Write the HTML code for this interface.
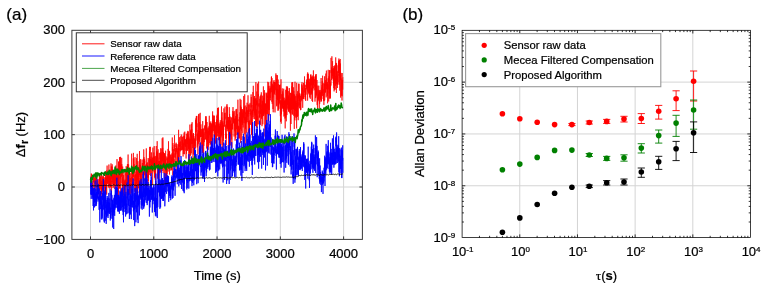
<!DOCTYPE html>
<html><head><meta charset="utf-8"><title>fig</title><style>html,body{margin:0;padding:0;background:#fff}text{stroke:#000;stroke-width:.22px}</style></head><body>
<svg width="763" height="288" viewBox="0 0 763 288" style="display:block;will-change:transform;font-family:'Liberation Sans',sans-serif">
<rect width="763" height="288" fill="#fff"/>
<line x1="90.50" x2="90.50" y1="30.3" y2="239.4" stroke="#d4d4d4" stroke-width="1"/>
<line x1="153.78" x2="153.78" y1="30.3" y2="239.4" stroke="#d4d4d4" stroke-width="1"/>
<line x1="217.05" x2="217.05" y1="30.3" y2="239.4" stroke="#d4d4d4" stroke-width="1"/>
<line x1="280.33" x2="280.33" y1="30.3" y2="239.4" stroke="#d4d4d4" stroke-width="1"/>
<line x1="343.60" x2="343.60" y1="30.3" y2="239.4" stroke="#d4d4d4" stroke-width="1"/>
<line x1="71.9" x2="362.4" y1="187.00" y2="187.00" stroke="#d4d4d4" stroke-width="1"/>
<line x1="71.9" x2="362.4" y1="134.65" y2="134.65" stroke="#d4d4d4" stroke-width="1"/>
<line x1="71.9" x2="362.4" y1="82.30" y2="82.30" stroke="#d4d4d4" stroke-width="1"/>
<path d="M90.5,182.9 L90.6,185.9 L90.7,181.6 L90.8,185.2 L90.8,187.9 L90.9,187.8 L91.0,179.7 L91.1,180.3 L91.2,175.9 L91.3,182.9 L91.3,173.5 L91.4,179.5 L91.5,181.0 L91.6,178.6 L91.7,182.7 L91.8,183.5 L91.8,174.2 L91.9,184.1 L92.0,181.0 L92.1,185.4 L92.2,185.2 L92.3,188.2 L92.4,185.3 L92.4,183.2 L92.5,188.7 L92.6,190.4 L92.7,186.0 L92.8,184.4 L92.9,185.7 L92.9,196.5 L93.0,196.8 L93.1,188.7 L93.2,190.6 L93.3,187.6 L93.4,184.0 L93.4,176.6 L93.5,182.4 L93.6,180.0 L93.7,178.0 L93.8,177.5 L93.9,182.1 L94.0,181.6 L94.0,181.5 L94.1,179.6 L94.2,185.3 L94.3,189.2 L94.4,184.2 L94.5,182.0 L94.5,182.0 L94.6,183.3 L94.7,177.4 L94.8,179.2 L94.9,184.0 L95.0,176.7 L95.0,180.9 L95.1,180.6 L95.2,186.0 L95.3,183.3 L95.4,180.8 L95.5,181.6 L95.6,177.7 L95.6,180.4 L95.7,177.8 L95.8,181.9 L95.9,181.4 L96.0,184.4 L96.1,178.4 L96.1,181.9 L96.2,190.9 L96.3,178.1 L96.4,184.0 L96.5,184.6 L96.6,184.2 L96.6,185.6 L96.7,183.1 L96.8,176.2 L96.9,177.6 L97.0,183.0 L97.1,184.1 L97.2,182.6 L97.2,183.4 L97.3,187.8 L97.4,184.5 L97.5,197.6 L97.6,190.9 L97.7,186.4 L97.7,184.9 L97.8,180.5 L97.9,191.7 L98.0,185.5 L98.1,181.8 L98.2,179.2 L98.2,185.2 L98.3,184.4 L98.4,185.5 L98.5,190.7 L98.6,185.7 L98.7,185.6 L98.8,186.3 L98.8,186.3 L98.9,184.6 L99.0,190.5 L99.1,187.1 L99.2,195.4 L99.3,187.5 L99.3,181.8 L99.4,175.3 L99.5,180.3 L99.6,189.5 L99.7,181.3 L99.8,177.6 L99.8,181.0 L99.9,178.6 L100.0,179.3 L100.1,173.8 L100.2,185.9 L100.3,184.3 L100.4,180.0 L100.4,186.0 L100.5,176.6 L100.6,184.7 L100.7,189.5 L100.8,189.4 L100.9,188.4 L100.9,183.5 L101.0,190.2 L101.1,198.5 L101.2,188.7 L101.3,177.0 L101.4,173.5 L101.4,174.3 L101.5,193.9 L101.6,186.1 L101.7,191.0 L101.8,181.0 L101.9,183.8 L102.0,187.7 L102.0,192.4 L102.1,184.6 L102.2,175.7 L102.3,190.7 L102.4,179.6 L102.5,183.3 L102.5,177.4 L102.6,183.3 L102.7,187.5 L102.8,185.8 L102.9,181.4 L103.0,188.7 L103.0,181.2 L103.1,183.0 L103.2,183.0 L103.3,190.0 L103.4,175.6 L103.5,189.7 L103.6,187.3 L103.6,192.2 L103.7,176.9 L103.8,178.1 L103.9,179.5 L104.0,192.0 L104.1,198.4 L104.1,189.5 L104.2,190.7 L104.3,191.8 L104.4,195.4 L104.5,197.4 L104.6,180.5 L104.6,182.5 L104.7,186.8 L104.8,188.6 L104.9,179.2 L105.0,177.2 L105.1,183.8 L105.1,186.5 L105.2,178.0 L105.3,186.0 L105.4,182.4 L105.5,180.8 L105.6,172.7 L105.7,190.4 L105.7,184.1 L105.8,180.0 L105.9,193.6 L106.0,186.2 L106.1,187.1 L106.2,171.6 L106.2,176.4 L106.3,188.5 L106.4,183.6 L106.5,186.7 L106.6,177.8 L106.7,194.6 L106.7,177.6 L106.8,183.9 L106.9,170.4 L107.0,176.6 L107.1,165.6 L107.2,184.2 L107.3,179.7 L107.3,172.6 L107.4,173.3 L107.5,183.3 L107.6,174.5 L107.7,179.2 L107.8,182.0 L107.8,180.3 L107.9,179.8 L108.0,181.3 L108.1,182.8 L108.2,183.2 L108.3,174.3 L108.3,178.9 L108.4,187.4 L108.5,176.2 L108.6,176.6 L108.7,175.9 L108.8,180.2 L108.9,164.5 L108.9,172.3 L109.0,184.8 L109.1,178.5 L109.2,185.7 L109.3,188.4 L109.4,185.3 L109.4,184.1 L109.5,178.5 L109.6,171.1 L109.7,181.9 L109.8,181.4 L109.9,184.9 L109.9,175.8 L110.0,180.8 L110.1,186.7 L110.2,176.6 L110.3,176.6 L110.4,187.2 L110.5,181.4 L110.5,178.0 L110.6,186.4 L110.7,187.6 L110.8,186.3 L110.9,169.7 L111.0,178.8 L111.0,163.4 L111.1,171.9 L111.2,177.8 L111.3,166.4 L111.4,179.1 L111.5,200.8 L111.5,196.4 L111.6,181.1 L111.7,182.3 L111.8,176.6 L111.9,175.1 L112.0,176.7 L112.1,166.6 L112.1,181.8 L112.2,164.3 L112.3,183.9 L112.4,177.8 L112.5,171.3 L112.6,175.5 L112.6,173.3 L112.7,179.6 L112.8,169.3 L112.9,178.3 L113.0,183.8 L113.1,188.1 L113.1,177.2 L113.2,176.2 L113.3,186.7 L113.4,179.5 L113.5,171.5 L113.6,183.9 L113.7,176.1 L113.7,179.8 L113.8,180.4 L113.9,179.3 L114.0,177.9 L114.1,173.9 L114.2,184.7 L114.2,179.0 L114.3,182.2 L114.4,184.3 L114.5,170.6 L114.6,189.0 L114.7,186.5 L114.7,177.8 L114.8,178.2 L114.9,171.4 L115.0,185.2 L115.1,176.4 L115.2,180.8 L115.3,174.5 L115.3,167.8 L115.4,176.6 L115.5,178.8 L115.6,181.5 L115.7,183.5 L115.8,194.6 L115.8,165.5 L115.9,177.4 L116.0,177.2 L116.1,182.8 L116.2,178.9 L116.3,179.1 L116.3,184.4 L116.4,174.8 L116.5,180.8 L116.6,186.0 L116.7,174.2 L116.8,178.0 L116.9,171.2 L116.9,173.8 L117.0,159.1 L117.1,169.8 L117.2,175.1 L117.3,175.9 L117.4,179.6 L117.4,182.4 L117.5,175.8 L117.6,186.9 L117.7,174.4 L117.8,178.7 L117.9,175.9 L117.9,180.2 L118.0,177.9 L118.1,192.0 L118.2,181.3 L118.3,173.7 L118.4,179.2 L118.5,201.0 L118.5,161.7 L118.6,171.5 L118.7,179.5 L118.8,161.6 L118.9,180.8 L119.0,181.5 L119.0,187.7 L119.1,182.4 L119.2,188.5 L119.3,168.5 L119.4,171.5 L119.5,157.3 L119.5,170.5 L119.6,164.3 L119.7,188.5 L119.8,183.2 L119.9,160.5 L120.0,157.0 L120.1,164.5 L120.1,169.2 L120.2,178.1 L120.3,177.2 L120.4,178.5 L120.5,176.5 L120.6,156.8 L120.6,172.1 L120.7,200.9 L120.8,178.1 L120.9,173.3 L121.0,164.7 L121.1,183.4 L121.1,173.2 L121.2,173.1 L121.3,168.0 L121.4,170.4 L121.5,173.0 L121.6,173.9 L121.7,157.9 L121.7,176.7 L121.8,164.2 L121.9,173.5 L122.0,176.2 L122.1,174.9 L122.2,171.0 L122.2,174.4 L122.3,183.5 L122.4,181.1 L122.5,177.3 L122.6,190.7 L122.7,166.5 L122.7,193.5 L122.8,179.4 L122.9,184.0 L123.0,199.7 L123.1,183.1 L123.2,183.7 L123.3,182.2 L123.3,195.6 L123.4,186.6 L123.5,183.8 L123.6,175.1 L123.7,181.9 L123.8,184.0 L123.8,179.7 L123.9,180.6 L124.0,172.3 L124.1,177.9 L124.2,179.7 L124.3,183.8 L124.3,185.9 L124.4,186.8 L124.5,180.7 L124.6,185.3 L124.7,190.1 L124.8,182.1 L124.9,186.2 L124.9,200.1 L125.0,197.0 L125.1,187.3 L125.2,179.6 L125.3,184.4 L125.4,183.6 L125.4,186.1 L125.5,180.4 L125.6,181.6 L125.7,170.1 L125.8,175.4 L125.9,173.5 L125.9,185.5 L126.0,199.9 L126.1,178.1 L126.2,166.1 L126.3,186.7 L126.4,179.4 L126.5,185.3 L126.5,168.7 L126.6,175.6 L126.7,180.3 L126.8,176.3 L126.9,178.0 L127.0,183.1 L127.0,169.6 L127.1,172.0 L127.2,168.0 L127.3,166.6 L127.4,164.3 L127.5,183.5 L127.5,171.8 L127.6,164.2 L127.7,174.8 L127.8,187.4 L127.9,183.8 L128.0,173.4 L128.1,154.5 L128.1,176.8 L128.2,180.5 L128.3,175.7 L128.4,172.1 L128.5,171.5 L128.6,174.6 L128.6,164.3 L128.7,184.2 L128.8,180.5 L128.9,170.5 L129.0,186.4 L129.1,181.8 L129.1,172.5 L129.2,182.6 L129.3,194.6 L129.4,180.1 L129.5,192.8 L129.6,188.6 L129.7,170.6 L129.7,177.2 L129.8,182.0 L129.9,181.9 L130.0,186.0 L130.1,183.6 L130.2,188.3 L130.2,184.7 L130.3,194.8 L130.4,188.8 L130.5,179.0 L130.6,179.3 L130.7,178.1 L130.7,181.9 L130.8,173.3 L130.9,184.6 L131.0,184.1 L131.1,184.4 L131.2,183.0 L131.3,193.3 L131.3,176.7 L131.4,175.7 L131.5,169.6 L131.6,153.7 L131.7,169.0 L131.8,180.1 L131.8,182.6 L131.9,178.8 L132.0,176.8 L132.1,186.2 L132.2,177.4 L132.3,179.7 L132.3,182.6 L132.4,168.7 L132.5,186.3 L132.6,168.4 L132.7,176.2 L132.8,184.1 L132.8,176.8 L132.9,171.5 L133.0,174.5 L133.1,183.9 L133.2,176.1 L133.3,158.4 L133.4,176.8 L133.4,152.9 L133.5,168.7 L133.6,176.6 L133.7,158.5 L133.8,163.6 L133.9,170.3 L133.9,167.2 L134.0,173.2 L134.1,164.2 L134.2,170.7 L134.3,168.1 L134.4,178.3 L134.4,185.4 L134.5,184.7 L134.6,190.7 L134.7,190.5 L134.8,191.9 L134.9,175.2 L135.0,180.9 L135.0,157.2 L135.1,180.3 L135.2,186.0 L135.3,180.4 L135.4,177.5 L135.5,174.2 L135.5,176.8 L135.6,189.2 L135.7,195.7 L135.8,181.9 L135.9,199.1 L136.0,179.7 L136.0,171.8 L136.1,173.0 L136.2,175.4 L136.3,176.1 L136.4,169.6 L136.5,164.2 L136.6,158.1 L136.6,186.1 L136.7,168.8 L136.8,190.5 L136.9,168.3 L137.0,195.7 L137.1,172.8 L137.1,180.0 L137.2,153.8 L137.3,179.8 L137.4,173.6 L137.5,177.1 L137.6,178.4 L137.6,172.1 L137.7,174.7 L137.8,192.7 L137.9,161.2 L138.0,170.2 L138.1,173.5 L138.2,172.5 L138.2,171.3 L138.3,183.3 L138.4,172.6 L138.5,185.4 L138.6,175.9 L138.7,171.0 L138.7,188.0 L138.8,169.1 L138.9,183.0 L139.0,177.8 L139.1,188.7 L139.2,185.0 L139.2,176.0 L139.3,165.4 L139.4,169.5 L139.5,151.0 L139.6,175.2 L139.7,160.3 L139.8,161.5 L139.8,167.2 L139.9,171.7 L140.0,177.3 L140.1,171.0 L140.2,174.4 L140.3,165.1 L140.3,173.1 L140.4,172.5 L140.5,184.2 L140.6,159.1 L140.7,184.5 L140.8,186.1 L140.8,181.5 L140.9,167.6 L141.0,177.4 L141.1,180.4 L141.2,180.2 L141.3,178.1 L141.4,197.9 L141.4,187.1 L141.5,185.2 L141.6,175.2 L141.7,169.2 L141.8,185.7 L141.9,174.6 L141.9,167.8 L142.0,172.6 L142.1,159.6 L142.2,170.4 L142.3,168.1 L142.4,163.0 L142.4,169.4 L142.5,171.0 L142.6,174.7 L142.7,171.3 L142.8,165.6 L142.9,168.7 L143.0,168.8 L143.0,173.0 L143.1,175.7 L143.2,178.1 L143.3,171.0 L143.4,158.8 L143.5,168.3 L143.5,161.3 L143.6,159.9 L143.7,149.4 L143.8,151.2 L143.9,157.3 L144.0,162.9 L144.0,157.2 L144.1,169.5 L144.2,172.8 L144.3,171.8 L144.4,174.7 L144.5,167.0 L144.6,159.1 L144.6,163.7 L144.7,160.8 L144.8,167.3 L144.9,175.4 L145.0,169.8 L145.1,181.0 L145.1,174.7 L145.2,168.7 L145.3,179.7 L145.4,170.0 L145.5,166.3 L145.6,170.1 L145.6,194.6 L145.7,173.3 L145.8,164.9 L145.9,180.6 L146.0,167.5 L146.1,170.4 L146.2,164.0 L146.2,187.5 L146.3,148.4 L146.4,173.2 L146.5,172.4 L146.6,167.0 L146.7,172.9 L146.7,177.9 L146.8,178.7 L146.9,163.2 L147.0,175.9 L147.1,166.9 L147.2,177.9 L147.2,169.8 L147.3,162.3 L147.4,176.5 L147.5,172.4 L147.6,173.0 L147.7,174.7 L147.8,177.6 L147.8,166.2 L147.9,186.9 L148.0,171.8 L148.1,165.4 L148.2,158.0 L148.3,175.0 L148.3,181.4 L148.4,167.1 L148.5,177.5 L148.6,172.5 L148.7,171.3 L148.8,167.4 L148.8,165.8 L148.9,171.6 L149.0,169.0 L149.1,159.4 L149.2,172.2 L149.3,163.0 L149.4,163.0 L149.4,154.7 L149.5,151.2 L149.6,166.4 L149.7,163.9 L149.8,175.0 L149.9,147.0 L149.9,162.8 L150.0,146.9 L150.1,150.5 L150.2,146.8 L150.3,160.6 L150.4,161.9 L150.4,159.0 L150.5,176.1 L150.6,164.3 L150.7,168.4 L150.8,166.6 L150.9,159.4 L151.0,164.6 L151.0,156.7 L151.1,162.6 L151.2,165.5 L151.3,162.0 L151.4,152.7 L151.5,152.4 L151.5,169.1 L151.6,171.0 L151.7,173.5 L151.8,159.6 L151.9,170.0 L152.0,167.9 L152.0,162.3 L152.1,161.6 L152.2,168.1 L152.3,185.0 L152.4,166.1 L152.5,157.7 L152.6,166.5 L152.6,160.5 L152.7,164.1 L152.8,164.7 L152.9,147.6 L153.0,164.8 L153.1,161.3 L153.1,171.5 L153.2,163.3 L153.3,156.7 L153.4,163.2 L153.5,159.6 L153.6,163.1 L153.6,167.0 L153.7,164.6 L153.8,152.5 L153.9,162.0 L154.0,165.4 L154.1,167.2 L154.2,146.1 L154.2,162.0 L154.3,173.3 L154.4,163.4 L154.5,156.6 L154.6,177.5 L154.7,172.7 L154.7,167.8 L154.8,172.9 L154.9,177.6 L155.0,161.8 L155.1,173.8 L155.2,174.5 L155.2,179.6 L155.3,155.9 L155.4,174.0 L155.5,176.7 L155.6,179.4 L155.7,185.5 L155.8,174.1 L155.8,171.2 L155.9,166.9 L156.0,157.4 L156.1,168.4 L156.2,162.4 L156.3,146.0 L156.3,164.3 L156.4,164.1 L156.5,163.5 L156.6,151.3 L156.7,166.4 L156.8,154.6 L156.8,163.2 L156.9,152.6 L157.0,158.7 L157.1,151.9 L157.2,141.2 L157.3,153.8 L157.4,157.8 L157.4,152.1 L157.5,151.6 L157.6,168.8 L157.7,163.5 L157.8,178.1 L157.9,158.3 L157.9,157.6 L158.0,179.0 L158.1,149.3 L158.2,167.9 L158.3,175.8 L158.4,165.8 L158.4,166.9 L158.5,165.1 L158.6,165.1 L158.7,161.2 L158.8,173.1 L158.9,175.4 L159.0,169.7 L159.0,182.6 L159.1,186.6 L159.2,153.1 L159.3,165.1 L159.4,171.5 L159.5,162.5 L159.5,161.0 L159.6,173.0 L159.7,166.9 L159.8,169.0 L159.9,171.8 L160.0,162.3 L160.0,166.0 L160.1,152.7 L160.2,159.0 L160.3,153.4 L160.4,163.9 L160.5,159.6 L160.6,172.5 L160.6,148.3 L160.7,160.6 L160.8,160.3 L160.9,162.5 L161.0,155.6 L161.1,158.0 L161.1,152.1 L161.2,164.8 L161.3,158.6 L161.4,157.3 L161.5,157.4 L161.6,167.0 L161.6,157.9 L161.7,151.2 L161.8,148.5 L161.9,161.5 L162.0,153.9 L162.1,157.7 L162.1,158.3 L162.2,138.3 L162.3,161.3 L162.4,151.3 L162.5,153.2 L162.6,156.4 L162.7,147.9 L162.7,171.0 L162.8,165.9 L162.9,137.4 L163.0,140.8 L163.1,153.0 L163.2,173.1 L163.2,157.2 L163.3,167.5 L163.4,153.3 L163.5,151.9 L163.6,162.3 L163.7,153.4 L163.7,153.7 L163.8,159.7 L163.9,166.6 L164.0,159.9 L164.1,153.2 L164.2,154.2 L164.3,165.6 L164.3,153.2 L164.4,155.8 L164.5,154.5 L164.6,181.7 L164.7,182.8 L164.8,159.6 L164.8,154.6 L164.9,160.4 L165.0,164.0 L165.1,159.8 L165.2,166.4 L165.3,164.8 L165.3,160.2 L165.4,165.2 L165.5,158.2 L165.6,150.7 L165.7,159.1 L165.8,182.1 L165.9,161.3 L165.9,156.3 L166.0,170.2 L166.1,172.6 L166.2,175.9 L166.3,169.2 L166.4,181.6 L166.4,168.8 L166.5,165.8 L166.6,181.5 L166.7,181.4 L166.8,165.2 L166.9,161.5 L166.9,158.4 L167.0,160.1 L167.1,156.8 L167.2,174.5 L167.3,163.7 L167.4,162.5 L167.5,164.6 L167.5,158.6 L167.6,159.0 L167.7,166.0 L167.8,158.6 L167.9,159.5 L168.0,162.8 L168.0,148.9 L168.1,171.6 L168.2,153.9 L168.3,163.4 L168.4,157.8 L168.5,152.1 L168.5,141.3 L168.6,158.1 L168.7,153.7 L168.8,156.1 L168.9,157.9 L169.0,159.3 L169.1,155.8 L169.1,157.9 L169.2,155.4 L169.3,150.8 L169.4,157.4 L169.5,174.5 L169.6,151.5 L169.6,162.9 L169.7,163.9 L169.8,168.0 L169.9,157.7 L170.0,155.5 L170.1,161.5 L170.1,169.0 L170.2,170.5 L170.3,164.6 L170.4,163.8 L170.5,161.8 L170.6,161.1 L170.7,166.9 L170.7,154.7 L170.8,161.6 L170.9,165.5 L171.0,158.6 L171.1,154.6 L171.2,155.3 L171.2,162.5 L171.3,170.4 L171.4,157.3 L171.5,164.1 L171.6,168.5 L171.7,159.5 L171.7,164.1 L171.8,170.0 L171.9,154.1 L172.0,153.3 L172.1,160.4 L172.2,149.5 L172.3,137.5 L172.3,149.4 L172.4,150.8 L172.5,147.1 L172.6,160.7 L172.7,152.3 L172.8,175.4 L172.8,153.0 L172.9,143.0 L173.0,162.2 L173.1,153.8 L173.2,166.0 L173.3,155.9 L173.3,158.3 L173.4,149.2 L173.5,154.4 L173.6,158.5 L173.7,167.1 L173.8,159.1 L173.9,162.6 L173.9,159.4 L174.0,166.2 L174.1,151.4 L174.2,144.8 L174.3,148.6 L174.4,150.5 L174.4,147.1 L174.5,135.2 L174.6,143.5 L174.7,148.5 L174.8,151.5 L174.9,150.1 L174.9,157.0 L175.0,153.4 L175.1,158.1 L175.2,151.3 L175.3,162.0 L175.4,149.8 L175.5,148.2 L175.5,149.3 L175.6,153.2 L175.7,154.6 L175.8,151.3 L175.9,151.0 L176.0,143.8 L176.0,147.0 L176.1,142.7 L176.2,151.8 L176.3,147.6 L176.4,151.2 L176.5,151.4 L176.5,150.8 L176.6,146.6 L176.7,146.3 L176.8,159.9 L176.9,170.0 L177.0,147.9 L177.1,153.6 L177.1,144.2 L177.2,148.4 L177.3,150.3 L177.4,162.0 L177.5,156.3 L177.6,161.9 L177.6,156.6 L177.7,151.2 L177.8,158.2 L177.9,160.9 L178.0,161.4 L178.1,152.2 L178.1,149.4 L178.2,150.7 L178.3,148.1 L178.4,161.7 L178.5,146.0 L178.6,129.8 L178.7,162.4 L178.7,144.4 L178.8,146.6 L178.9,160.8 L179.0,151.5 L179.1,149.9 L179.2,145.2 L179.2,146.0 L179.3,142.3 L179.4,146.8 L179.5,146.7 L179.6,137.2 L179.7,144.4 L179.7,145.8 L179.8,156.8 L179.9,148.9 L180.0,148.0 L180.1,150.4 L180.2,144.9 L180.3,149.8 L180.3,151.4 L180.4,147.1 L180.5,143.1 L180.6,141.6 L180.7,141.4 L180.8,149.9 L180.8,136.3 L180.9,140.9 L181.0,145.3 L181.1,144.0 L181.2,138.3 L181.3,135.9 L181.3,134.5 L181.4,138.8 L181.5,139.3 L181.6,148.0 L181.7,150.3 L181.8,147.0 L181.9,145.6 L181.9,150.2 L182.0,143.1 L182.1,139.9 L182.2,138.1 L182.3,136.9 L182.4,144.0 L182.4,149.6 L182.5,148.0 L182.6,140.0 L182.7,149.4 L182.8,148.8 L182.9,143.4 L182.9,147.5 L183.0,137.3 L183.1,156.5 L183.2,135.7 L183.3,145.3 L183.4,154.0 L183.5,148.9 L183.5,144.2 L183.6,151.0 L183.7,143.7 L183.8,149.9 L183.9,142.7 L184.0,143.1 L184.0,143.2 L184.1,132.6 L184.2,137.7 L184.3,135.9 L184.4,135.9 L184.5,154.2 L184.5,136.1 L184.6,139.8 L184.7,145.2 L184.8,131.6 L184.9,140.9 L185.0,139.3 L185.1,140.6 L185.1,146.2 L185.2,146.6 L185.3,140.5 L185.4,143.1 L185.5,146.5 L185.6,139.3 L185.6,144.3 L185.7,139.9 L185.8,150.7 L185.9,144.6 L186.0,144.7 L186.1,158.5 L186.1,142.5 L186.2,141.2 L186.3,144.3 L186.4,143.0 L186.5,153.8 L186.6,137.9 L186.7,143.0 L186.7,142.0 L186.8,134.0 L186.9,143.9 L187.0,141.0 L187.1,137.3 L187.2,150.1 L187.2,132.7 L187.3,140.5 L187.4,138.5 L187.5,143.7 L187.6,140.2 L187.7,145.0 L187.7,151.0 L187.8,130.9 L187.9,136.9 L188.0,135.5 L188.1,134.5 L188.2,134.8 L188.3,147.0 L188.3,131.5 L188.4,143.8 L188.5,146.3 L188.6,149.2 L188.7,139.8 L188.8,161.5 L188.8,137.9 L188.9,136.7 L189.0,147.4 L189.1,138.4 L189.2,142.5 L189.3,150.2 L189.3,141.4 L189.4,144.0 L189.5,152.8 L189.6,139.7 L189.7,161.1 L189.8,148.8 L189.8,149.4 L189.9,124.6 L190.0,147.1 L190.1,139.7 L190.2,144.0 L190.3,146.2 L190.4,139.0 L190.4,155.8 L190.5,151.0 L190.6,140.6 L190.7,135.4 L190.8,129.7 L190.9,154.7 L190.9,131.2 L191.0,136.3 L191.1,130.7 L191.2,137.2 L191.3,153.1 L191.4,141.6 L191.4,123.8 L191.5,141.4 L191.6,144.1 L191.7,134.7 L191.8,129.3 L191.9,137.4 L192.0,139.5 L192.0,132.3 L192.1,122.2 L192.2,140.6 L192.3,139.6 L192.4,144.0 L192.5,143.7 L192.5,139.4 L192.6,146.3 L192.7,146.3 L192.8,148.0 L192.9,135.4 L193.0,159.5 L193.0,142.9 L193.1,138.1 L193.2,133.5 L193.3,150.0 L193.4,153.9 L193.5,133.1 L193.6,137.0 L193.6,134.3 L193.7,138.2 L193.8,142.0 L193.9,154.8 L194.0,137.6 L194.1,138.7 L194.1,141.5 L194.2,142.2 L194.3,140.7 L194.4,141.9 L194.5,142.9 L194.6,146.4 L194.6,144.1 L194.7,138.8 L194.8,155.7 L194.9,141.3 L195.0,143.4 L195.1,140.4 L195.2,145.8 L195.2,136.0 L195.3,144.9 L195.4,148.3 L195.5,130.8 L195.6,131.6 L195.7,120.0 L195.7,136.1 L195.8,131.5 L195.9,118.4 L196.0,140.6 L196.1,137.6 L196.2,120.6 L196.2,123.8 L196.3,116.3 L196.4,123.6 L196.5,120.3 L196.6,116.1 L196.7,124.0 L196.8,127.0 L196.8,115.9 L196.9,131.8 L197.0,123.3 L197.1,130.3 L197.2,147.5 L197.3,141.4 L197.3,134.4 L197.4,138.3 L197.5,141.5 L197.6,139.8 L197.7,139.6 L197.8,145.5 L197.8,132.4 L197.9,154.5 L198.0,131.4 L198.1,130.0 L198.2,138.4 L198.3,138.1 L198.4,134.2 L198.4,143.7 L198.5,114.3 L198.6,133.3 L198.7,134.6 L198.8,139.5 L198.9,131.2 L198.9,135.7 L199.0,128.2 L199.1,113.8 L199.2,139.4 L199.3,135.2 L199.4,134.6 L199.4,131.1 L199.5,141.9 L199.6,132.7 L199.7,122.1 L199.8,130.7 L199.9,152.4 L200.0,125.0 L200.0,115.3 L200.1,112.9 L200.2,112.9 L200.3,112.9 L200.4,124.6 L200.5,130.3 L200.5,137.1 L200.6,131.4 L200.7,129.2 L200.8,136.8 L200.9,124.3 L201.0,137.1 L201.0,130.1 L201.1,135.7 L201.2,128.9 L201.3,130.3 L201.4,133.2 L201.5,135.2 L201.6,136.5 L201.6,135.8 L201.7,140.4 L201.8,144.5 L201.9,138.2 L202.0,148.7 L202.1,135.7 L202.1,132.3 L202.2,136.0 L202.3,153.2 L202.4,129.1 L202.5,133.8 L202.6,129.9 L202.6,152.3 L202.7,121.1 L202.8,151.8 L202.9,134.0 L203.0,137.8 L203.1,128.3 L203.2,139.5 L203.2,132.1 L203.3,130.4 L203.4,128.9 L203.5,134.5 L203.6,153.5 L203.7,142.1 L203.7,138.0 L203.8,145.9 L203.9,139.6 L204.0,140.0 L204.1,132.4 L204.2,134.5 L204.2,137.8 L204.3,142.1 L204.4,137.0 L204.5,135.2 L204.6,133.3 L204.7,130.3 L204.8,125.3 L204.8,129.5 L204.9,130.4 L205.0,126.5 L205.1,133.4 L205.2,139.7 L205.3,128.1 L205.3,125.9 L205.4,139.1 L205.5,116.3 L205.6,122.7 L205.7,130.6 L205.8,133.1 L205.8,125.5 L205.9,119.3 L206.0,129.4 L206.1,127.7 L206.2,133.5 L206.3,116.3 L206.4,130.1 L206.4,122.2 L206.5,142.4 L206.6,148.5 L206.7,134.4 L206.8,130.2 L206.9,140.4 L206.9,138.0 L207.0,122.0 L207.1,128.9 L207.2,140.2 L207.3,132.0 L207.4,131.5 L207.4,151.9 L207.5,137.7 L207.6,135.3 L207.7,131.5 L207.8,128.6 L207.9,143.9 L208.0,138.0 L208.0,127.5 L208.1,146.2 L208.2,149.9 L208.3,132.9 L208.4,146.7 L208.5,131.4 L208.5,131.0 L208.6,137.9 L208.7,134.6 L208.8,128.4 L208.9,132.1 L209.0,126.2 L209.0,126.4 L209.1,128.8 L209.2,126.0 L209.3,115.8 L209.4,134.7 L209.5,122.9 L209.6,125.9 L209.6,143.1 L209.7,136.3 L209.8,127.3 L209.9,134.0 L210.0,129.3 L210.1,125.9 L210.1,145.3 L210.2,121.4 L210.3,136.5 L210.4,130.9 L210.5,137.1 L210.6,144.0 L210.6,135.3 L210.7,122.8 L210.8,131.3 L210.9,133.7 L211.0,135.4 L211.1,130.0 L211.2,124.8 L211.2,123.3 L211.3,123.9 L211.4,151.6 L211.5,132.6 L211.6,124.3 L211.7,138.9 L211.7,125.0 L211.8,138.1 L211.9,140.5 L212.0,129.5 L212.1,127.7 L212.2,128.1 L212.2,121.4 L212.3,151.7 L212.4,129.1 L212.5,129.3 L212.6,111.4 L212.7,127.4 L212.8,126.5 L212.8,132.5 L212.9,114.9 L213.0,130.8 L213.1,116.2 L213.2,129.0 L213.3,130.9 L213.3,126.6 L213.4,119.1 L213.5,120.0 L213.6,123.9 L213.7,121.0 L213.8,115.8 L213.8,126.8 L213.9,126.7 L214.0,119.8 L214.1,123.7 L214.2,137.3 L214.3,126.1 L214.4,115.7 L214.4,135.4 L214.5,120.8 L214.6,127.0 L214.7,131.7 L214.8,131.9 L214.9,127.7 L214.9,127.6 L215.0,133.2 L215.1,124.8 L215.2,142.4 L215.3,125.8 L215.4,126.2 L215.4,126.3 L215.5,129.4 L215.6,143.6 L215.7,131.3 L215.8,134.9 L215.9,134.5 L216.0,122.0 L216.0,128.2 L216.1,128.5 L216.2,122.3 L216.3,138.2 L216.4,125.4 L216.5,127.3 L216.5,147.1 L216.6,119.2 L216.7,131.8 L216.8,120.7 L216.9,125.4 L217.0,115.9 L217.0,118.7 L217.1,114.7 L217.2,120.0 L217.3,136.5 L217.4,111.4 L217.5,108.0 L217.5,117.0 L217.6,133.0 L217.7,132.8 L217.8,126.6 L217.9,124.6 L218.0,126.5 L218.1,107.8 L218.1,136.0 L218.2,122.5 L218.3,122.0 L218.4,107.6 L218.5,116.8 L218.6,120.4 L218.6,140.2 L218.7,123.9 L218.8,128.3 L218.9,125.7 L219.0,133.8 L219.1,123.5 L219.1,128.8 L219.2,132.2 L219.3,127.2 L219.4,140.0 L219.5,129.5 L219.6,136.0 L219.7,144.9 L219.7,126.2 L219.8,128.9 L219.9,132.3 L220.0,126.7 L220.1,122.5 L220.2,122.1 L220.2,128.7 L220.3,120.2 L220.4,127.0 L220.5,124.0 L220.6,131.3 L220.7,146.7 L220.7,126.1 L220.8,145.0 L220.9,127.4 L221.0,137.4 L221.1,126.5 L221.2,135.4 L221.3,125.5 L221.3,120.4 L221.4,114.9 L221.5,106.4 L221.6,128.0 L221.7,117.5 L221.8,125.8 L221.8,135.4 L221.9,132.1 L222.0,127.0 L222.1,112.2 L222.2,112.6 L222.3,149.6 L222.3,127.8 L222.4,129.2 L222.5,129.8 L222.6,121.4 L222.7,128.3 L222.8,123.9 L222.9,123.5 L222.9,123.2 L223.0,134.8 L223.1,145.1 L223.2,129.8 L223.3,127.6 L223.4,140.8 L223.4,125.1 L223.5,138.0 L223.6,127.0 L223.7,130.1 L223.8,122.9 L223.9,112.5 L223.9,108.4 L224.0,126.4 L224.1,125.5 L224.2,121.2 L224.3,126.7 L224.4,119.6 L224.5,113.1 L224.5,118.2 L224.6,123.4 L224.7,117.1 L224.8,120.4 L224.9,112.6 L225.0,106.7 L225.0,114.8 L225.1,118.7 L225.2,112.7 L225.3,120.3 L225.4,125.2 L225.5,128.4 L225.5,138.7 L225.6,130.3 L225.7,124.7 L225.8,126.9 L225.9,129.7 L226.0,134.1 L226.1,137.1 L226.1,139.2 L226.2,145.1 L226.3,133.7 L226.4,138.3 L226.5,121.2 L226.6,124.7 L226.6,121.9 L226.7,115.5 L226.8,105.5 L226.9,127.3 L227.0,104.1 L227.1,129.0 L227.1,120.8 L227.2,131.3 L227.3,107.1 L227.4,112.7 L227.5,124.5 L227.6,128.4 L227.7,127.8 L227.7,122.6 L227.8,126.2 L227.9,121.5 L228.0,117.1 L228.1,117.8 L228.2,117.3 L228.2,130.4 L228.3,121.9 L228.4,124.8 L228.5,120.3 L228.6,148.4 L228.7,134.1 L228.7,117.4 L228.8,122.9 L228.9,138.4 L229.0,127.8 L229.1,121.2 L229.2,123.8 L229.3,115.9 L229.3,107.2 L229.4,120.2 L229.5,135.2 L229.6,114.0 L229.7,128.6 L229.8,124.1 L229.8,126.5 L229.9,116.3 L230.0,120.2 L230.1,129.3 L230.2,120.1 L230.3,123.2 L230.3,121.2 L230.4,136.4 L230.5,128.2 L230.6,124.5 L230.7,145.5 L230.8,130.0 L230.9,117.1 L230.9,125.7 L231.0,129.9 L231.1,131.8 L231.2,131.9 L231.3,128.0 L231.4,133.9 L231.4,134.8 L231.5,124.2 L231.6,139.4 L231.7,117.7 L231.8,128.0 L231.9,132.0 L231.9,147.7 L232.0,129.6 L232.1,123.4 L232.2,128.7 L232.3,129.1 L232.4,123.6 L232.5,126.1 L232.5,124.2 L232.6,123.0 L232.7,129.5 L232.8,111.0 L232.9,123.2 L233.0,107.1 L233.0,114.3 L233.1,123.5 L233.2,114.0 L233.3,122.6 L233.4,120.5 L233.5,120.7 L233.5,114.2 L233.6,120.5 L233.7,120.8 L233.8,112.3 L233.9,119.3 L234.0,120.2 L234.1,136.5 L234.1,124.1 L234.2,110.9 L234.3,122.6 L234.4,120.1 L234.5,119.8 L234.6,125.6 L234.6,120.4 L234.7,124.1 L234.8,119.1 L234.9,131.4 L235.0,119.9 L235.1,140.7 L235.1,118.1 L235.2,130.4 L235.3,119.9 L235.4,128.9 L235.5,136.0 L235.6,131.0 L235.7,125.0 L235.7,115.9 L235.8,138.4 L235.9,131.2 L236.0,109.3 L236.1,122.9 L236.2,124.1 L236.2,110.7 L236.3,111.0 L236.4,124.4 L236.5,129.2 L236.6,121.1 L236.7,108.9 L236.7,122.6 L236.8,127.9 L236.9,129.9 L237.0,135.0 L237.1,132.8 L237.2,131.3 L237.3,114.2 L237.3,127.4 L237.4,134.2 L237.5,119.9 L237.6,121.2 L237.7,132.5 L237.8,127.6 L237.8,122.5 L237.9,99.7 L238.0,120.8 L238.1,119.4 L238.2,122.4 L238.3,138.6 L238.3,127.3 L238.4,126.7 L238.5,125.8 L238.6,129.4 L238.7,135.6 L238.8,126.7 L238.9,130.4 L238.9,137.6 L239.0,135.6 L239.1,133.5 L239.2,127.1 L239.3,125.6 L239.4,117.1 L239.4,138.5 L239.5,129.2 L239.6,130.1 L239.7,126.0 L239.8,123.9 L239.9,112.3 L239.9,121.1 L240.0,122.1 L240.1,98.8 L240.2,130.6 L240.3,135.0 L240.4,142.9 L240.5,114.7 L240.5,129.1 L240.6,105.5 L240.7,117.5 L240.8,114.0 L240.9,119.9 L241.0,99.8 L241.0,116.4 L241.1,106.9 L241.2,128.5 L241.3,130.7 L241.4,122.5 L241.5,108.8 L241.5,117.8 L241.6,111.6 L241.7,140.3 L241.8,118.2 L241.9,111.6 L242.0,122.6 L242.1,115.6 L242.1,121.7 L242.2,117.9 L242.3,119.2 L242.4,124.8 L242.5,119.7 L242.6,109.1 L242.6,117.2 L242.7,118.6 L242.8,113.2 L242.9,133.2 L243.0,127.7 L243.1,110.1 L243.1,127.5 L243.2,123.5 L243.3,118.0 L243.4,115.3 L243.5,117.5 L243.6,102.1 L243.7,96.0 L243.7,115.1 L243.8,111.2 L243.9,114.8 L244.0,116.1 L244.1,123.2 L244.2,114.2 L244.2,107.8 L244.3,112.8 L244.4,106.4 L244.5,120.3 L244.6,112.0 L244.7,94.3 L244.7,108.6 L244.8,134.1 L244.9,127.0 L245.0,117.5 L245.1,121.9 L245.2,144.5 L245.2,123.8 L245.3,117.2 L245.4,123.9 L245.5,128.8 L245.6,113.0 L245.7,113.7 L245.8,109.2 L245.8,105.5 L245.9,123.4 L246.0,111.7 L246.1,122.4 L246.2,114.8 L246.3,111.9 L246.3,123.9 L246.4,132.7 L246.5,107.2 L246.6,121.3 L246.7,110.5 L246.8,113.8 L246.8,119.6 L246.9,120.1 L247.0,104.4 L247.1,102.7 L247.2,110.9 L247.3,115.3 L247.4,116.0 L247.4,115.0 L247.5,110.2 L247.6,113.2 L247.7,122.2 L247.8,116.0 L247.9,112.9 L247.9,116.8 L248.0,95.3 L248.1,127.1 L248.2,133.1 L248.3,121.1 L248.4,124.4 L248.4,104.5 L248.5,114.0 L248.6,113.8 L248.7,109.4 L248.8,123.5 L248.9,123.1 L249.0,135.1 L249.0,136.4 L249.1,122.3 L249.2,132.2 L249.3,129.0 L249.4,120.5 L249.5,126.3 L249.5,132.8 L249.6,114.5 L249.7,104.5 L249.8,107.9 L249.9,111.8 L250.0,108.6 L250.0,102.9 L250.1,103.5 L250.2,115.4 L250.3,112.8 L250.4,124.8 L250.5,113.1 L250.6,112.3 L250.6,109.8 L250.7,109.1 L250.8,114.0 L250.9,111.0 L251.0,101.3 L251.1,100.0 L251.1,94.4 L251.2,107.4 L251.3,97.1 L251.4,110.1 L251.5,134.5 L251.6,117.4 L251.6,110.6 L251.7,114.9 L251.8,118.0 L251.9,134.9 L252.0,105.0 L252.1,126.3 L252.2,124.4 L252.2,123.2 L252.3,138.2 L252.4,121.4 L252.5,109.7 L252.6,114.7 L252.7,114.9 L252.7,114.3 L252.8,110.2 L252.9,92.1 L253.0,117.2 L253.1,110.6 L253.2,108.8 L253.2,94.2 L253.3,85.8 L253.4,103.0 L253.5,109.2 L253.6,110.9 L253.7,97.6 L253.8,107.8 L253.8,105.8 L253.9,111.1 L254.0,119.1 L254.1,100.0 L254.2,104.2 L254.3,112.6 L254.3,111.3 L254.4,100.3 L254.5,96.0 L254.6,104.8 L254.7,102.4 L254.8,98.6 L254.8,119.2 L254.9,111.3 L255.0,115.6 L255.1,108.8 L255.2,98.7 L255.3,114.3 L255.4,104.4 L255.4,113.0 L255.5,125.9 L255.6,117.2 L255.7,114.5 L255.8,110.9 L255.9,82.1 L255.9,105.8 L256.0,98.1 L256.1,119.2 L256.2,126.2 L256.3,114.0 L256.4,126.0 L256.4,109.5 L256.5,126.8 L256.6,100.9 L256.7,105.0 L256.8,91.5 L256.9,93.8 L257.0,103.8 L257.0,100.2 L257.1,103.8 L257.2,128.1 L257.3,112.9 L257.4,93.7 L257.5,83.5 L257.5,106.6 L257.6,120.3 L257.7,116.1 L257.8,124.3 L257.9,113.6 L258.0,106.1 L258.0,103.5 L258.1,106.6 L258.2,106.3 L258.3,106.2 L258.4,94.2 L258.5,96.4 L258.6,81.6 L258.6,96.1 L258.7,109.0 L258.8,116.7 L258.9,124.3 L259.0,111.4 L259.1,110.7 L259.1,113.7 L259.2,103.3 L259.3,117.7 L259.4,115.4 L259.5,117.0 L259.6,117.0 L259.6,114.2 L259.7,117.2 L259.8,98.8 L259.9,107.6 L260.0,96.4 L260.1,109.2 L260.2,108.4 L260.2,114.2 L260.3,109.9 L260.4,117.2 L260.5,124.8 L260.6,109.4 L260.7,96.3 L260.7,113.7 L260.8,101.8 L260.9,94.7 L261.0,108.1 L261.1,111.8 L261.2,106.9 L261.2,103.4 L261.3,92.3 L261.4,117.9 L261.5,109.0 L261.6,111.0 L261.7,119.1 L261.8,116.0 L261.8,104.5 L261.9,108.3 L262.0,126.2 L262.1,120.1 L262.2,100.6 L262.3,102.5 L262.3,103.1 L262.4,107.1 L262.5,116.7 L262.6,104.3 L262.7,95.7 L262.8,124.3 L262.8,101.2 L262.9,112.0 L263.0,111.5 L263.1,110.7 L263.2,106.0 L263.3,114.2 L263.4,107.8 L263.4,86.4 L263.5,116.1 L263.6,100.4 L263.7,97.8 L263.8,101.8 L263.9,109.7 L263.9,104.8 L264.0,115.4 L264.1,103.4 L264.2,111.5 L264.3,110.5 L264.4,90.1 L264.4,107.7 L264.5,93.5 L264.6,108.4 L264.7,113.5 L264.8,103.6 L264.9,136.5 L265.0,104.3 L265.0,107.9 L265.1,108.9 L265.2,103.3 L265.3,125.8 L265.4,128.0 L265.5,105.4 L265.5,114.2 L265.6,103.9 L265.7,105.6 L265.8,105.5 L265.9,118.6 L266.0,119.5 L266.0,92.6 L266.1,108.0 L266.2,109.7 L266.3,113.9 L266.4,112.0 L266.5,109.4 L266.6,93.6 L266.6,98.8 L266.7,125.1 L266.8,114.6 L266.9,108.5 L267.0,106.2 L267.1,92.9 L267.1,100.2 L267.2,114.5 L267.3,101.0 L267.4,108.4 L267.5,99.5 L267.6,114.0 L267.6,95.7 L267.7,97.9 L267.8,81.8 L267.9,86.2 L268.0,97.8 L268.1,104.9 L268.2,102.3 L268.2,91.7 L268.3,93.3 L268.4,86.1 L268.5,97.5 L268.6,121.1 L268.7,106.2 L268.7,82.4 L268.8,110.1 L268.9,94.2 L269.0,91.2 L269.1,109.9 L269.2,93.2 L269.2,95.1 L269.3,115.3 L269.4,101.4 L269.5,93.6 L269.6,89.9 L269.7,88.7 L269.8,93.7 L269.8,93.2 L269.9,85.8 L270.0,88.2 L270.1,97.9 L270.2,87.6 L270.3,90.1 L270.3,90.7 L270.4,98.7 L270.5,100.3 L270.6,94.4 L270.7,88.8 L270.8,92.7 L270.8,87.7 L270.9,85.7 L271.0,81.5 L271.1,86.3 L271.2,92.0 L271.3,81.6 L271.4,76.8 L271.4,89.4 L271.5,76.5 L271.6,84.0 L271.7,87.9 L271.8,85.1 L271.9,101.8 L271.9,86.7 L272.0,78.1 L272.1,81.0 L272.2,103.8 L272.3,95.2 L272.4,83.7 L272.4,88.9 L272.5,87.8 L272.6,97.3 L272.7,88.6 L272.8,95.5 L272.9,97.4 L272.9,85.9 L273.0,109.0 L273.1,91.1 L273.2,112.3 L273.3,85.5 L273.4,86.5 L273.5,91.8 L273.5,91.3 L273.6,81.6 L273.7,87.1 L273.8,89.2 L273.9,88.6 L274.0,92.5 L274.0,80.1 L274.1,94.6 L274.2,85.4 L274.3,85.8 L274.4,93.7 L274.5,82.1 L274.5,89.1 L274.6,90.5 L274.7,82.1 L274.8,90.4 L274.9,95.1 L275.0,112.4 L275.1,99.4 L275.1,92.2 L275.2,90.6 L275.3,84.6 L275.4,82.5 L275.5,85.1 L275.6,86.4 L275.6,89.4 L275.7,90.2 L275.8,74.6 L275.9,73.4 L276.0,91.9 L276.1,92.9 L276.1,95.2 L276.2,80.0 L276.3,74.9 L276.4,92.7 L276.5,88.8 L276.6,99.6 L276.7,106.3 L276.7,78.8 L276.8,105.5 L276.9,103.7 L277.0,91.6 L277.1,99.2 L277.2,90.1 L277.2,91.3 L277.3,89.1 L277.4,99.6 L277.5,75.2 L277.6,98.3 L277.7,93.6 L277.7,100.1 L277.8,99.7 L277.9,105.7 L278.0,110.9 L278.1,96.7 L278.2,79.6 L278.3,110.2 L278.3,84.1 L278.4,106.7 L278.5,102.1 L278.6,94.6 L278.7,100.8 L278.8,105.6 L278.8,107.0 L278.9,108.8 L279.0,89.7 L279.1,104.3 L279.2,92.5 L279.3,99.9 L279.3,101.2 L279.4,102.8 L279.5,85.1 L279.6,98.0 L279.7,85.0 L279.8,98.4 L279.9,92.1 L279.9,88.0 L280.0,98.9 L280.1,84.5 L280.2,105.9 L280.3,110.6 L280.4,116.2 L280.4,100.3 L280.5,100.8 L280.6,121.9 L280.7,118.8 L280.8,121.0 L280.9,120.3 L280.9,112.9 L281.0,79.3 L281.1,109.9 L281.2,123.7 L281.3,100.3 L281.4,103.3 L281.5,110.6 L281.5,114.3 L281.6,109.7 L281.7,94.2 L281.8,103.5 L281.9,102.2 L282.0,105.7 L282.0,97.9 L282.1,95.6 L282.2,89.4 L282.3,88.4 L282.4,106.5 L282.5,107.5 L282.5,99.8 L282.6,108.7 L282.7,91.4 L282.8,104.6 L282.9,93.6 L283.0,105.5 L283.1,103.3 L283.1,97.6 L283.2,100.3 L283.3,111.5 L283.4,106.2 L283.5,109.3 L283.6,101.8 L283.6,105.3 L283.7,88.7 L283.8,95.7 L283.9,116.5 L284.0,106.9 L284.1,105.7 L284.1,105.0 L284.2,97.7 L284.3,98.3 L284.4,108.5 L284.5,101.2 L284.6,110.2 L284.7,115.7 L284.7,101.8 L284.8,107.5 L284.9,99.9 L285.0,118.6 L285.1,100.8 L285.2,128.4 L285.2,110.9 L285.3,114.0 L285.4,117.9 L285.5,117.4 L285.6,106.6 L285.7,98.7 L285.7,89.8 L285.8,117.4 L285.9,98.6 L286.0,108.4 L286.1,102.9 L286.2,103.9 L286.3,121.3 L286.3,100.9 L286.4,86.3 L286.5,104.8 L286.6,89.5 L286.7,99.4 L286.8,107.9 L286.8,104.4 L286.9,115.1 L287.0,87.4 L287.1,91.8 L287.2,109.5 L287.3,106.9 L287.3,97.6 L287.4,90.9 L287.5,86.5 L287.6,104.5 L287.7,87.9 L287.8,97.5 L287.9,97.3 L287.9,104.7 L288.0,95.0 L288.1,99.3 L288.2,108.1 L288.3,96.3 L288.4,103.0 L288.4,99.4 L288.5,110.8 L288.6,103.7 L288.7,91.1 L288.8,111.8 L288.9,110.5 L288.9,102.3 L289.0,111.7 L289.1,111.8 L289.2,107.4 L289.3,108.8 L289.4,88.1 L289.5,95.7 L289.5,109.2 L289.6,107.7 L289.7,92.5 L289.8,105.3 L289.9,103.1 L290.0,113.5 L290.0,108.6 L290.1,112.8 L290.2,106.8 L290.3,99.2 L290.4,130.7 L290.5,112.7 L290.5,97.6 L290.6,100.4 L290.7,92.9 L290.8,113.4 L290.9,93.1 L291.0,124.0 L291.1,98.6 L291.1,107.1 L291.2,101.1 L291.3,109.6 L291.4,105.8 L291.5,109.5 L291.6,99.6 L291.6,93.7 L291.7,100.7 L291.8,82.4 L291.9,103.6 L292.0,86.3 L292.1,114.6 L292.1,110.9 L292.2,106.2 L292.3,101.6 L292.4,82.2 L292.5,96.7 L292.6,114.3 L292.7,82.2 L292.7,105.2 L292.8,96.8 L292.9,108.9 L293.0,107.5 L293.1,95.7 L293.2,93.9 L293.2,104.0 L293.3,108.7 L293.4,102.0 L293.5,97.5 L293.6,87.3 L293.7,108.5 L293.7,115.7 L293.8,91.1 L293.9,109.4 L294.0,94.1 L294.1,99.9 L294.2,108.3 L294.3,128.9 L294.3,97.6 L294.4,109.5 L294.5,99.2 L294.6,99.0 L294.7,94.8 L294.8,103.7 L294.8,96.9 L294.9,120.4 L295.0,81.7 L295.1,116.5 L295.2,112.6 L295.3,101.4 L295.3,102.8 L295.4,105.1 L295.5,110.7 L295.6,105.1 L295.7,98.2 L295.8,96.0 L295.9,104.5 L295.9,109.3 L296.0,117.7 L296.1,100.6 L296.2,105.3 L296.3,114.7 L296.4,117.6 L296.4,105.0 L296.5,103.0 L296.6,128.4 L296.7,82.8 L296.8,88.3 L296.9,98.7 L296.9,103.9 L297.0,93.9 L297.1,99.8 L297.2,99.8 L297.3,101.3 L297.4,105.8 L297.5,116.9 L297.5,105.0 L297.6,91.2 L297.7,105.1 L297.8,115.9 L297.9,102.3 L298.0,106.8 L298.0,95.2 L298.1,99.1 L298.2,120.2 L298.3,100.4 L298.4,100.7 L298.5,96.1 L298.5,93.8 L298.6,89.6 L298.7,83.7 L298.8,98.3 L298.9,97.9 L299.0,83.8 L299.1,87.8 L299.1,105.4 L299.2,100.2 L299.3,92.9 L299.4,108.1 L299.5,95.2 L299.6,96.7 L299.6,94.1 L299.7,94.8 L299.8,100.5 L299.9,98.7 L300.0,101.0 L300.1,100.6 L300.1,99.5 L300.2,100.9 L300.3,109.1 L300.4,103.0 L300.5,110.2 L300.6,101.0 L300.7,100.8 L300.7,102.2 L300.8,96.2 L300.9,109.9 L301.0,95.7 L301.1,100.2 L301.2,93.4 L301.2,98.9 L301.3,94.4 L301.4,99.2 L301.5,95.3 L301.6,98.0 L301.7,95.3 L301.7,84.3 L301.8,100.7 L301.9,87.2 L302.0,82.2 L302.1,99.2 L302.2,96.3 L302.2,85.4 L302.3,89.7 L302.4,92.3 L302.5,87.9 L302.6,95.6 L302.7,107.8 L302.8,99.1 L302.8,95.0 L302.9,89.6 L303.0,93.8 L303.1,99.0 L303.2,98.4 L303.3,94.6 L303.3,94.4 L303.4,98.3 L303.5,82.8 L303.6,86.3 L303.7,97.3 L303.8,96.7 L303.8,99.1 L303.9,93.7 L304.0,94.6 L304.1,90.8 L304.2,92.4 L304.3,84.5 L304.4,90.2 L304.4,90.7 L304.5,76.4 L304.6,86.3 L304.7,88.1 L304.8,89.5 L304.9,92.3 L304.9,91.8 L305.0,96.9 L305.1,95.2 L305.2,90.3 L305.3,99.6 L305.4,95.8 L305.4,89.7 L305.5,88.0 L305.6,95.4 L305.7,100.9 L305.8,94.3 L305.9,85.1 L306.0,87.6 L306.0,94.6 L306.1,85.4 L306.2,87.3 L306.3,83.8 L306.4,85.6 L306.5,81.9 L306.5,85.2 L306.6,79.6 L306.7,88.9 L306.8,82.3 L306.9,84.2 L307.0,84.6 L307.0,87.1 L307.1,90.2 L307.2,89.7 L307.3,78.4 L307.4,73.9 L307.5,83.0 L307.6,83.6 L307.6,100.6 L307.7,72.4 L307.8,91.6 L307.9,82.9 L308.0,81.7 L308.1,81.4 L308.1,82.8 L308.2,79.1 L308.3,87.3 L308.4,73.8 L308.5,80.2 L308.6,93.4 L308.6,85.3 L308.7,84.1 L308.8,84.4 L308.9,87.5 L309.0,81.9 L309.1,94.5 L309.2,81.4 L309.2,89.1 L309.3,92.8 L309.4,83.5 L309.5,87.2 L309.6,97.4 L309.7,83.0 L309.7,79.6 L309.8,80.8 L309.9,79.6 L310.0,80.1 L310.1,78.4 L310.2,83.5 L310.2,79.6 L310.3,98.8 L310.4,81.2 L310.5,74.7 L310.6,78.0 L310.7,79.9 L310.8,86.0 L310.8,79.8 L310.9,95.0 L311.0,74.5 L311.1,94.2 L311.2,77.2 L311.3,83.2 L311.3,84.8 L311.4,79.5 L311.5,83.8 L311.6,76.5 L311.7,92.5 L311.8,88.1 L311.8,93.5 L311.9,89.1 L312.0,100.9 L312.1,91.0 L312.2,87.9 L312.3,91.4 L312.4,84.6 L312.4,84.9 L312.5,77.6 L312.6,101.9 L312.7,75.6 L312.8,86.1 L312.9,90.5 L312.9,81.9 L313.0,85.0 L313.1,80.8 L313.2,76.9 L313.3,84.1 L313.4,76.4 L313.4,70.4 L313.5,88.4 L313.6,76.7 L313.7,79.5 L313.8,77.2 L313.9,79.2 L314.0,79.3 L314.0,81.6 L314.1,84.6 L314.2,83.3 L314.3,79.1 L314.4,81.0 L314.5,80.3 L314.5,80.6 L314.6,86.6 L314.7,84.5 L314.8,90.3 L314.9,85.3 L315.0,84.4 L315.0,101.6 L315.1,76.3 L315.2,83.3 L315.3,81.1 L315.4,84.1 L315.5,74.5 L315.6,81.0 L315.6,98.1 L315.7,86.0 L315.8,76.1 L315.9,91.5 L316.0,91.1 L316.1,97.3 L316.1,84.4 L316.2,94.5 L316.3,74.1 L316.4,85.9 L316.5,87.1 L316.6,88.3 L316.6,89.7 L316.7,95.6 L316.8,87.8 L316.9,82.1 L317.0,80.0 L317.1,90.3 L317.2,105.1 L317.2,97.4 L317.3,97.2 L317.4,103.9 L317.5,111.2 L317.6,111.3 L317.7,86.8 L317.7,85.7 L317.8,85.6 L317.9,101.3 L318.0,100.7 L318.1,90.7 L318.2,89.8 L318.2,91.1 L318.3,99.4 L318.4,97.3 L318.5,93.9 L318.6,93.9 L318.7,99.2 L318.8,85.7 L318.8,100.3 L318.9,100.3 L319.0,100.1 L319.1,99.4 L319.2,100.4 L319.3,108.6 L319.3,95.0 L319.4,90.2 L319.5,93.8 L319.6,92.3 L319.7,103.8 L319.8,91.7 L319.8,98.5 L319.9,98.3 L320.0,93.4 L320.1,95.9 L320.2,90.9 L320.3,89.9 L320.4,92.0 L320.4,92.1 L320.5,99.6 L320.6,95.4 L320.7,95.5 L320.8,93.4 L320.9,96.7 L320.9,92.2 L321.0,101.8 L321.1,78.0 L321.2,94.7 L321.3,101.2 L321.4,100.1 L321.4,90.7 L321.5,100.9 L321.6,99.9 L321.7,96.4 L321.8,93.3 L321.9,93.2 L322.0,87.4 L322.0,94.5 L322.1,85.1 L322.2,90.8 L322.3,81.2 L322.4,95.9 L322.5,84.5 L322.5,87.9 L322.6,75.7 L322.7,80.1 L322.8,85.5 L322.9,88.9 L323.0,93.0 L323.0,91.2 L323.1,89.9 L323.2,99.0 L323.3,83.2 L323.4,96.8 L323.5,99.1 L323.6,100.9 L323.6,100.4 L323.7,93.8 L323.8,102.4 L323.9,104.9 L324.0,99.2 L324.1,101.1 L324.1,94.0 L324.2,89.0 L324.3,94.4 L324.4,83.9 L324.5,91.2 L324.6,76.3 L324.6,89.9 L324.7,100.2 L324.8,91.8 L324.9,91.2 L325.0,90.8 L325.1,83.4 L325.2,85.1 L325.2,92.9 L325.3,89.5 L325.4,80.2 L325.5,86.7 L325.6,92.0 L325.7,87.6 L325.7,85.2 L325.8,73.6 L325.9,75.2 L326.0,84.3 L326.1,82.1 L326.2,84.1 L326.2,97.4 L326.3,76.3 L326.4,70.6 L326.5,83.5 L326.6,89.2 L326.7,83.4 L326.8,82.2 L326.8,83.2 L326.9,78.4 L327.0,82.9 L327.1,85.9 L327.2,84.0 L327.3,85.7 L327.3,96.0 L327.4,82.2 L327.5,90.1 L327.6,103.3 L327.7,83.6 L327.8,83.6 L327.8,89.7 L327.9,84.2 L328.0,88.9 L328.1,78.5 L328.2,69.8 L328.3,77.0 L328.4,82.4 L328.4,78.4 L328.5,80.0 L328.6,78.6 L328.7,101.5 L328.8,86.3 L328.9,77.3 L328.9,76.4 L329.0,77.3 L329.1,83.1 L329.2,93.4 L329.3,79.4 L329.4,92.8 L329.4,98.7 L329.5,87.2 L329.6,70.2 L329.7,79.7 L329.8,70.4 L329.9,82.5 L329.9,83.1 L330.0,82.0 L330.1,97.6 L330.2,96.5 L330.3,86.0 L330.4,85.3 L330.5,98.5 L330.5,83.2 L330.6,86.4 L330.7,83.8 L330.8,79.7 L330.9,85.5 L331.0,81.9 L331.0,57.9 L331.1,69.5 L331.2,73.1 L331.3,70.1 L331.4,71.1 L331.5,67.5 L331.5,80.0 L331.6,68.8 L331.7,69.3 L331.8,70.6 L331.9,56.3 L332.0,62.3 L332.1,78.3 L332.1,74.2 L332.2,69.8 L332.3,76.1 L332.4,67.7 L332.5,62.2 L332.6,61.2 L332.6,72.1 L332.7,71.7 L332.8,69.2 L332.9,76.5 L333.0,78.8 L333.1,69.7 L333.1,75.3 L333.2,80.5 L333.3,67.9 L333.4,76.7 L333.5,84.4 L333.6,78.3 L333.7,80.2 L333.7,86.3 L333.8,88.2 L333.9,66.0 L334.0,81.1 L334.1,91.4 L334.2,68.9 L334.2,69.0 L334.3,79.7 L334.4,75.8 L334.5,66.6 L334.6,81.7 L334.7,73.0 L334.7,77.6 L334.8,89.9 L334.9,65.2 L335.0,86.3 L335.1,89.4 L335.2,80.4 L335.3,81.5 L335.3,82.7 L335.4,85.7 L335.5,78.8 L335.6,82.6 L335.7,57.4 L335.8,81.2 L335.8,80.7 L335.9,76.2 L336.0,79.0 L336.1,62.9 L336.2,76.4 L336.3,63.5 L336.3,76.1 L336.4,93.0 L336.5,77.8 L336.6,63.5 L336.7,84.2 L336.8,79.6 L336.9,70.8 L336.9,73.6 L337.0,65.3 L337.1,79.3 L337.2,80.9 L337.3,75.6 L337.4,88.0 L337.4,82.0 L337.5,84.4 L337.6,78.2 L337.7,75.4 L337.8,71.3 L337.9,80.3 L337.9,84.6 L338.0,74.1 L338.1,82.1 L338.2,76.5 L338.3,72.2 L338.4,72.3 L338.5,70.2 L338.5,73.1 L338.6,61.0 L338.7,71.7 L338.8,61.3 L338.9,58.5 L339.0,68.0 L339.0,75.6 L339.1,74.4 L339.2,60.2 L339.3,84.7 L339.4,60.2 L339.5,62.8 L339.5,67.0 L339.6,69.4 L339.7,79.7 L339.8,90.7 L339.9,63.8 L340.0,75.7 L340.1,63.4 L340.1,77.5 L340.2,59.0 L340.3,71.3 L340.4,80.2 L340.5,71.4 L340.6,97.6 L340.6,92.9 L340.7,75.5 L340.8,74.6 L340.9,79.9 L341.0,75.1 L341.1,72.9 L341.1,88.2 L341.2,95.7 L341.3,85.1 L341.4,83.7 L341.5,80.3 L341.6,80.0 L341.7,95.4 L341.7,81.6 L341.8,78.5 L341.9,93.9 L342.0,100.5 L342.1,82.2 L342.2,73.0 L342.2,96.3 L342.3,81.4 L342.4,80.9 L342.5,87.7 L342.6,80.0 L342.7,89.6 L342.7,83.3 L342.8,83.0 L342.9,77.5 L343.0,78.0" fill="none" stroke="#ff0000" stroke-width="0.7" stroke-linejoin="round"/>
<path d="M90.5,186.4 L90.6,178.0 L90.7,189.8 L90.8,194.6 L90.8,189.5 L90.9,188.0 L91.0,177.3 L91.1,192.4 L91.2,198.9 L91.3,195.8 L91.3,195.5 L91.4,187.2 L91.5,194.8 L91.6,194.6 L91.7,188.0 L91.8,190.9 L91.8,180.7 L91.9,186.6 L92.0,187.0 L92.1,185.4 L92.2,190.1 L92.3,194.7 L92.4,190.7 L92.4,194.0 L92.5,186.3 L92.6,185.6 L92.7,197.9 L92.8,198.8 L92.9,189.8 L92.9,198.6 L93.0,198.5 L93.1,205.7 L93.2,206.0 L93.3,199.7 L93.4,196.5 L93.4,204.2 L93.5,210.4 L93.6,194.4 L93.7,192.1 L93.8,199.0 L93.9,188.1 L94.0,198.0 L94.0,188.6 L94.1,194.5 L94.2,188.0 L94.3,199.6 L94.4,203.6 L94.5,207.4 L94.5,203.6 L94.6,198.9 L94.7,201.5 L94.8,198.2 L94.9,193.2 L95.0,197.6 L95.0,201.6 L95.1,187.5 L95.2,180.7 L95.3,202.1 L95.4,194.6 L95.5,201.8 L95.6,201.8 L95.6,206.2 L95.7,193.1 L95.8,189.0 L95.9,198.0 L96.0,199.4 L96.1,196.9 L96.1,197.7 L96.2,194.0 L96.3,205.8 L96.4,195.5 L96.5,199.2 L96.6,203.7 L96.6,191.6 L96.7,194.8 L96.8,190.5 L96.9,187.9 L97.0,181.6 L97.1,179.3 L97.2,197.5 L97.2,190.0 L97.3,191.7 L97.4,194.0 L97.5,192.2 L97.6,192.5 L97.7,184.7 L97.7,196.6 L97.8,199.3 L97.9,196.2 L98.0,201.6 L98.1,193.2 L98.2,194.0 L98.2,183.9 L98.3,194.1 L98.4,191.2 L98.5,188.2 L98.6,187.9 L98.7,194.0 L98.8,196.6 L98.8,200.1 L98.9,196.6 L99.0,200.2 L99.1,209.8 L99.2,197.2 L99.3,198.6 L99.3,188.6 L99.4,198.1 L99.5,195.5 L99.6,206.3 L99.7,211.7 L99.8,222.4 L99.8,205.9 L99.9,197.5 L100.0,204.2 L100.1,200.1 L100.2,203.5 L100.3,199.2 L100.4,209.1 L100.4,195.5 L100.5,190.8 L100.6,191.7 L100.7,204.6 L100.8,195.8 L100.9,191.3 L100.9,194.2 L101.0,199.4 L101.1,202.2 L101.2,202.9 L101.3,219.3 L101.4,209.7 L101.4,207.0 L101.5,196.2 L101.6,206.1 L101.7,201.9 L101.8,215.9 L101.9,207.9 L102.0,219.3 L102.0,204.2 L102.1,205.3 L102.2,217.8 L102.3,205.3 L102.4,210.9 L102.5,197.5 L102.5,192.9 L102.6,199.2 L102.7,199.8 L102.8,199.4 L102.9,190.4 L103.0,186.6 L103.0,203.7 L103.1,204.6 L103.2,202.7 L103.3,193.8 L103.4,179.0 L103.5,198.0 L103.6,209.5 L103.6,207.7 L103.7,192.4 L103.8,201.6 L103.9,205.5 L104.0,191.7 L104.1,211.3 L104.1,221.5 L104.2,202.0 L104.3,193.8 L104.4,222.6 L104.5,212.8 L104.6,203.7 L104.6,200.5 L104.7,211.1 L104.8,201.2 L104.9,190.5 L105.0,203.5 L105.1,199.1 L105.1,201.6 L105.2,208.2 L105.3,193.6 L105.4,193.1 L105.5,187.0 L105.6,201.9 L105.7,191.9 L105.7,220.7 L105.8,210.8 L105.9,214.3 L106.0,209.6 L106.1,201.1 L106.2,199.9 L106.2,223.9 L106.3,205.5 L106.4,214.8 L106.5,204.6 L106.6,212.6 L106.7,217.0 L106.7,210.5 L106.8,214.2 L106.9,216.3 L107.0,201.9 L107.1,210.1 L107.2,196.0 L107.3,209.0 L107.3,198.0 L107.4,210.3 L107.5,212.7 L107.6,205.1 L107.7,209.0 L107.8,208.6 L107.8,215.7 L107.9,211.6 L108.0,218.0 L108.1,205.8 L108.2,197.8 L108.3,202.4 L108.3,211.6 L108.4,202.4 L108.5,207.1 L108.6,212.6 L108.7,202.2 L108.8,192.9 L108.9,205.7 L108.9,203.5 L109.0,213.6 L109.1,202.5 L109.2,207.6 L109.3,206.3 L109.4,208.8 L109.4,203.5 L109.5,206.5 L109.6,213.9 L109.7,212.6 L109.8,198.5 L109.9,212.2 L109.9,210.4 L110.0,209.8 L110.1,188.5 L110.2,202.4 L110.3,220.5 L110.4,214.4 L110.5,218.2 L110.5,213.7 L110.6,207.6 L110.7,218.0 L110.8,208.0 L110.9,209.1 L111.0,201.7 L111.0,196.8 L111.1,193.9 L111.2,193.1 L111.3,195.5 L111.4,190.6 L111.5,192.9 L111.5,193.8 L111.6,194.6 L111.7,207.8 L111.8,212.3 L111.9,195.1 L112.0,218.8 L112.1,211.5 L112.1,215.5 L112.2,206.7 L112.3,203.6 L112.4,209.5 L112.5,200.2 L112.6,208.8 L112.6,213.6 L112.7,227.5 L112.8,206.1 L112.9,213.3 L113.0,213.9 L113.1,215.1 L113.1,199.4 L113.2,211.6 L113.3,207.4 L113.4,204.5 L113.5,205.9 L113.6,206.5 L113.7,220.2 L113.7,229.0 L113.8,200.4 L113.9,197.8 L114.0,207.4 L114.1,211.8 L114.2,212.7 L114.2,201.5 L114.3,199.6 L114.4,194.9 L114.5,205.2 L114.6,206.2 L114.7,215.8 L114.7,196.0 L114.8,197.9 L114.9,209.6 L115.0,209.4 L115.1,195.2 L115.2,192.3 L115.3,186.5 L115.3,207.5 L115.4,200.0 L115.5,198.0 L115.6,203.7 L115.7,192.8 L115.8,197.3 L115.8,190.8 L115.9,188.8 L116.0,203.4 L116.1,207.9 L116.2,201.4 L116.3,198.1 L116.3,200.5 L116.4,187.0 L116.5,192.4 L116.6,204.4 L116.7,204.8 L116.8,179.3 L116.9,177.7 L116.9,198.5 L117.0,196.3 L117.1,206.1 L117.2,207.0 L117.3,205.8 L117.4,208.5 L117.4,206.4 L117.5,187.6 L117.6,204.0 L117.7,211.4 L117.8,205.6 L117.9,204.2 L117.9,201.2 L118.0,203.9 L118.1,195.0 L118.2,203.5 L118.3,206.0 L118.4,211.7 L118.5,200.2 L118.5,198.1 L118.6,199.4 L118.7,203.9 L118.8,194.8 L118.9,201.2 L119.0,209.7 L119.0,199.8 L119.1,210.4 L119.2,197.4 L119.3,196.6 L119.4,213.8 L119.5,201.7 L119.5,200.1 L119.6,201.3 L119.7,201.1 L119.8,202.6 L119.9,196.5 L120.0,190.6 L120.1,201.1 L120.1,197.3 L120.2,197.4 L120.3,192.0 L120.4,206.2 L120.5,191.9 L120.6,210.5 L120.6,193.9 L120.7,192.4 L120.8,209.3 L120.9,210.4 L121.0,199.6 L121.1,210.4 L121.1,193.8 L121.2,208.3 L121.3,202.1 L121.4,196.6 L121.5,198.5 L121.6,188.3 L121.7,202.7 L121.7,201.5 L121.8,191.3 L121.9,194.8 L122.0,190.9 L122.1,196.4 L122.2,194.4 L122.2,190.7 L122.3,193.5 L122.4,187.6 L122.5,202.0 L122.6,198.8 L122.7,201.6 L122.7,207.1 L122.8,201.4 L122.9,211.6 L123.0,192.5 L123.1,199.8 L123.2,215.0 L123.3,195.9 L123.3,201.4 L123.4,216.3 L123.5,222.3 L123.6,196.0 L123.7,202.4 L123.8,212.2 L123.8,201.2 L123.9,204.9 L124.0,201.1 L124.1,186.1 L124.2,197.4 L124.3,205.5 L124.3,198.8 L124.4,200.9 L124.5,196.0 L124.6,194.6 L124.7,201.1 L124.8,197.4 L124.9,208.9 L124.9,185.4 L125.0,205.4 L125.1,194.2 L125.2,211.9 L125.3,203.7 L125.4,204.3 L125.4,203.7 L125.5,198.3 L125.6,216.5 L125.7,201.8 L125.8,196.0 L125.9,197.6 L125.9,191.9 L126.0,200.8 L126.1,206.2 L126.2,210.0 L126.3,199.6 L126.4,202.7 L126.5,205.2 L126.5,210.5 L126.6,214.3 L126.7,203.8 L126.8,206.6 L126.9,202.5 L127.0,197.0 L127.0,199.5 L127.1,182.5 L127.2,195.4 L127.3,195.8 L127.4,198.3 L127.5,188.6 L127.5,198.2 L127.6,205.1 L127.7,205.3 L127.8,213.5 L127.9,197.6 L128.0,192.4 L128.1,194.2 L128.1,175.2 L128.2,175.2 L128.3,190.7 L128.4,194.8 L128.5,189.0 L128.6,196.9 L128.6,200.0 L128.7,204.9 L128.8,198.9 L128.9,205.9 L129.0,193.2 L129.1,212.8 L129.1,209.3 L129.2,205.0 L129.3,211.1 L129.4,219.0 L129.5,213.5 L129.6,208.0 L129.7,210.3 L129.7,215.1 L129.8,212.0 L129.9,201.9 L130.0,185.9 L130.1,197.8 L130.2,201.1 L130.2,195.8 L130.3,198.9 L130.4,214.3 L130.5,195.0 L130.6,202.6 L130.7,206.9 L130.7,194.2 L130.8,200.0 L130.9,198.7 L131.0,205.1 L131.1,204.2 L131.2,197.9 L131.3,219.1 L131.3,202.7 L131.4,195.9 L131.5,196.2 L131.6,197.6 L131.7,201.9 L131.8,185.8 L131.8,192.9 L131.9,207.0 L132.0,206.2 L132.1,193.8 L132.2,188.9 L132.3,205.6 L132.3,207.5 L132.4,189.9 L132.5,201.4 L132.6,193.6 L132.7,196.1 L132.8,182.2 L132.8,187.2 L132.9,194.5 L133.0,204.8 L133.1,178.5 L133.2,192.6 L133.3,199.6 L133.4,211.3 L133.4,200.9 L133.5,206.4 L133.6,213.0 L133.7,220.1 L133.8,207.0 L133.9,209.3 L133.9,209.9 L134.0,208.7 L134.1,205.7 L134.2,209.5 L134.3,194.3 L134.4,199.3 L134.4,192.8 L134.5,204.8 L134.6,194.2 L134.7,226.1 L134.8,199.3 L134.9,193.6 L135.0,207.0 L135.0,187.9 L135.1,195.4 L135.2,200.8 L135.3,188.4 L135.4,192.0 L135.5,201.5 L135.5,199.2 L135.6,196.0 L135.7,195.9 L135.8,200.7 L135.9,222.3 L136.0,205.1 L136.0,208.6 L136.1,201.4 L136.2,198.5 L136.3,198.8 L136.4,212.3 L136.5,207.0 L136.6,195.1 L136.6,195.6 L136.7,199.3 L136.8,198.1 L136.9,191.1 L137.0,186.2 L137.1,199.9 L137.1,189.3 L137.2,195.0 L137.3,196.9 L137.4,199.0 L137.5,192.0 L137.6,200.9 L137.6,219.5 L137.7,194.0 L137.8,207.1 L137.9,199.7 L138.0,197.1 L138.1,223.1 L138.2,203.7 L138.2,196.0 L138.3,201.4 L138.4,200.3 L138.5,199.6 L138.6,205.4 L138.7,196.0 L138.7,199.2 L138.8,195.6 L138.9,195.1 L139.0,204.0 L139.1,200.5 L139.2,193.6 L139.2,191.4 L139.3,198.2 L139.4,199.0 L139.5,215.4 L139.6,189.3 L139.7,196.0 L139.8,182.7 L139.8,195.2 L139.9,195.8 L140.0,180.6 L140.1,188.0 L140.2,191.3 L140.3,193.9 L140.3,190.5 L140.4,197.7 L140.5,195.4 L140.6,191.7 L140.7,186.2 L140.8,198.5 L140.8,190.7 L140.9,199.7 L141.0,186.3 L141.1,178.9 L141.2,208.6 L141.3,201.0 L141.4,204.9 L141.4,198.3 L141.5,204.4 L141.6,205.3 L141.7,182.5 L141.8,185.1 L141.9,183.9 L141.9,201.2 L142.0,191.5 L142.1,201.1 L142.2,209.7 L142.3,193.4 L142.4,199.1 L142.4,205.6 L142.5,193.6 L142.6,200.8 L142.7,204.0 L142.8,188.4 L142.9,185.9 L143.0,193.0 L143.0,174.3 L143.1,184.7 L143.2,189.2 L143.3,197.0 L143.4,171.6 L143.5,186.8 L143.5,191.8 L143.6,199.9 L143.7,208.8 L143.8,199.6 L143.9,207.3 L144.0,198.8 L144.0,198.6 L144.1,192.5 L144.2,189.7 L144.3,205.8 L144.4,198.6 L144.5,188.4 L144.6,194.1 L144.6,189.6 L144.7,178.4 L144.8,193.4 L144.9,202.6 L145.0,195.9 L145.1,190.6 L145.1,192.0 L145.2,187.7 L145.3,187.2 L145.4,186.5 L145.5,197.0 L145.6,194.0 L145.6,193.7 L145.7,200.2 L145.8,177.5 L145.9,185.6 L146.0,179.0 L146.1,170.2 L146.2,195.5 L146.2,191.9 L146.3,192.2 L146.4,195.3 L146.5,178.8 L146.6,180.4 L146.7,194.1 L146.7,174.7 L146.8,203.1 L146.9,196.1 L147.0,178.8 L147.1,190.7 L147.2,190.4 L147.2,205.1 L147.3,191.4 L147.4,188.9 L147.5,199.7 L147.6,187.9 L147.7,192.1 L147.8,200.9 L147.8,196.7 L147.9,200.9 L148.0,196.0 L148.1,190.7 L148.2,182.1 L148.3,199.7 L148.3,187.7 L148.4,192.4 L148.5,193.7 L148.6,199.5 L148.7,196.4 L148.8,189.1 L148.8,188.2 L148.9,191.6 L149.0,195.8 L149.1,193.8 L149.2,185.8 L149.3,190.2 L149.4,216.6 L149.4,195.4 L149.5,197.7 L149.6,189.9 L149.7,198.4 L149.8,200.1 L149.9,191.8 L149.9,207.5 L150.0,190.9 L150.1,190.6 L150.2,195.0 L150.3,202.1 L150.4,197.3 L150.4,189.3 L150.5,180.2 L150.6,190.1 L150.7,191.9 L150.8,195.4 L150.9,181.6 L151.0,188.7 L151.0,187.2 L151.1,188.9 L151.2,173.3 L151.3,194.5 L151.4,177.0 L151.5,195.4 L151.5,199.7 L151.6,195.8 L151.7,193.2 L151.8,187.1 L151.9,193.6 L152.0,199.3 L152.0,188.4 L152.1,187.7 L152.2,188.2 L152.3,212.5 L152.4,200.4 L152.5,196.1 L152.6,199.2 L152.6,188.4 L152.7,196.7 L152.8,196.4 L152.9,204.2 L153.0,191.3 L153.1,196.8 L153.1,196.9 L153.2,195.6 L153.3,196.6 L153.4,185.3 L153.5,193.1 L153.6,200.9 L153.6,188.3 L153.7,193.3 L153.8,195.2 L153.9,193.2 L154.0,185.1 L154.1,190.7 L154.2,199.1 L154.2,198.9 L154.3,199.9 L154.4,204.8 L154.5,210.3 L154.6,198.7 L154.7,212.1 L154.7,197.7 L154.8,202.4 L154.9,187.3 L155.0,194.9 L155.1,208.5 L155.2,212.0 L155.2,200.7 L155.3,196.6 L155.4,215.7 L155.5,198.4 L155.6,207.8 L155.7,181.1 L155.8,199.6 L155.8,194.6 L155.9,173.6 L156.0,206.0 L156.1,216.5 L156.2,202.3 L156.3,198.1 L156.3,199.4 L156.4,207.9 L156.5,206.3 L156.6,198.1 L156.7,206.0 L156.8,204.1 L156.8,202.4 L156.9,204.3 L157.0,185.1 L157.1,194.4 L157.2,201.5 L157.3,218.0 L157.4,208.3 L157.4,206.5 L157.5,205.5 L157.6,199.2 L157.7,184.2 L157.8,207.2 L157.9,202.2 L157.9,188.7 L158.0,192.5 L158.1,182.4 L158.2,167.0 L158.3,183.6 L158.4,172.2 L158.4,175.9 L158.5,185.8 L158.6,189.6 L158.7,181.9 L158.8,187.9 L158.9,167.6 L159.0,183.6 L159.0,192.0 L159.1,181.8 L159.2,183.4 L159.3,179.4 L159.4,193.0 L159.5,187.1 L159.5,196.2 L159.6,191.6 L159.7,193.3 L159.8,188.6 L159.9,208.8 L160.0,194.3 L160.0,194.6 L160.1,194.0 L160.2,192.7 L160.3,197.2 L160.4,185.7 L160.5,184.5 L160.6,207.4 L160.6,188.4 L160.7,197.7 L160.8,179.6 L160.9,192.0 L161.0,180.6 L161.1,186.7 L161.1,188.1 L161.2,194.3 L161.3,165.4 L161.4,186.2 L161.5,195.2 L161.6,193.9 L161.6,198.9 L161.7,196.8 L161.8,198.7 L161.9,190.3 L162.0,190.3 L162.1,197.6 L162.1,186.7 L162.2,178.6 L162.3,197.9 L162.4,180.3 L162.5,186.2 L162.6,178.1 L162.7,190.0 L162.7,191.0 L162.8,200.9 L162.9,190.8 L163.0,194.8 L163.1,189.3 L163.2,197.9 L163.2,187.9 L163.3,199.3 L163.4,195.3 L163.5,200.8 L163.6,180.0 L163.7,194.2 L163.7,200.3 L163.8,188.0 L163.9,189.0 L164.0,189.2 L164.1,172.9 L164.2,179.8 L164.3,190.6 L164.3,188.2 L164.4,196.3 L164.5,189.1 L164.6,185.5 L164.7,186.7 L164.8,195.8 L164.8,206.3 L164.9,204.0 L165.0,198.1 L165.1,195.8 L165.2,189.9 L165.3,188.8 L165.3,177.0 L165.4,192.1 L165.5,192.1 L165.6,183.1 L165.7,182.3 L165.8,182.8 L165.9,181.7 L165.9,180.3 L166.0,173.4 L166.1,182.4 L166.2,185.9 L166.3,182.8 L166.4,176.6 L166.4,183.7 L166.5,183.5 L166.6,193.9 L166.7,178.1 L166.8,178.6 L166.9,182.9 L166.9,185.7 L167.0,183.7 L167.1,180.0 L167.2,184.2 L167.3,186.6 L167.4,177.4 L167.5,178.5 L167.5,175.3 L167.6,182.6 L167.7,180.9 L167.8,185.2 L167.9,191.4 L168.0,188.5 L168.0,175.9 L168.1,176.8 L168.2,179.4 L168.3,182.5 L168.4,185.9 L168.5,184.3 L168.5,176.3 L168.6,177.3 L168.7,201.8 L168.8,187.5 L168.9,193.2 L169.0,183.7 L169.1,190.4 L169.1,186.8 L169.2,193.3 L169.3,190.4 L169.4,195.7 L169.5,185.6 L169.6,186.7 L169.6,183.2 L169.7,187.1 L169.8,188.9 L169.9,182.1 L170.0,184.0 L170.1,198.0 L170.1,193.0 L170.2,195.6 L170.3,191.8 L170.4,191.7 L170.5,186.8 L170.6,196.0 L170.7,186.1 L170.7,200.2 L170.8,198.4 L170.9,197.1 L171.0,188.4 L171.1,184.6 L171.2,184.7 L171.2,189.5 L171.3,184.8 L171.4,184.6 L171.5,180.0 L171.6,179.1 L171.7,187.6 L171.7,176.9 L171.8,184.9 L171.9,180.4 L172.0,175.4 L172.1,184.7 L172.2,188.4 L172.3,198.7 L172.3,183.7 L172.4,188.7 L172.5,189.6 L172.6,187.0 L172.7,186.2 L172.8,186.6 L172.8,178.2 L172.9,186.5 L173.0,197.9 L173.1,176.1 L173.2,181.6 L173.3,177.4 L173.3,177.0 L173.4,171.8 L173.5,190.4 L173.6,171.2 L173.7,179.9 L173.8,179.1 L173.9,185.2 L173.9,172.5 L174.0,166.0 L174.1,186.5 L174.2,178.3 L174.3,174.8 L174.4,168.4 L174.4,169.2 L174.5,171.0 L174.6,177.2 L174.7,170.3 L174.8,171.3 L174.9,170.7 L174.9,170.7 L175.0,164.8 L175.1,195.8 L175.2,175.7 L175.3,172.2 L175.4,171.0 L175.5,169.4 L175.5,169.0 L175.6,173.9 L175.7,170.3 L175.8,179.5 L175.9,176.3 L176.0,176.6 L176.0,177.7 L176.1,176.8 L176.2,171.9 L176.3,173.1 L176.4,169.5 L176.5,175.2 L176.5,176.4 L176.6,174.6 L176.7,177.4 L176.8,176.1 L176.9,172.9 L177.0,172.4 L177.1,178.0 L177.1,177.4 L177.2,179.0 L177.3,184.2 L177.4,181.6 L177.5,181.3 L177.6,172.7 L177.6,164.0 L177.7,176.7 L177.8,167.4 L177.9,175.0 L178.0,176.9 L178.1,174.9 L178.1,169.9 L178.2,178.4 L178.3,177.6 L178.4,174.1 L178.5,176.4 L178.6,167.1 L178.7,157.3 L178.7,178.6 L178.8,186.4 L178.9,175.1 L179.0,177.3 L179.1,180.5 L179.2,173.3 L179.2,180.7 L179.3,178.2 L179.4,169.9 L179.5,174.1 L179.6,178.9 L179.7,183.0 L179.7,175.3 L179.8,167.8 L179.9,176.1 L180.0,172.7 L180.1,171.2 L180.2,169.6 L180.3,161.4 L180.3,184.7 L180.4,170.9 L180.5,161.6 L180.6,166.2 L180.7,172.1 L180.8,160.3 L180.8,174.9 L180.9,176.6 L181.0,156.1 L181.1,175.7 L181.2,171.8 L181.3,171.8 L181.3,178.1 L181.4,164.6 L181.5,172.6 L181.6,189.0 L181.7,172.8 L181.8,181.3 L181.9,176.9 L181.9,174.1 L182.0,177.6 L182.1,178.5 L182.2,173.6 L182.3,178.6 L182.4,182.5 L182.4,180.2 L182.5,179.1 L182.6,173.1 L182.7,176.3 L182.8,164.9 L182.9,171.1 L182.9,173.1 L183.0,190.7 L183.1,183.0 L183.2,181.4 L183.3,178.8 L183.4,183.0 L183.5,181.7 L183.5,187.2 L183.6,177.7 L183.7,191.4 L183.8,165.3 L183.9,175.4 L184.0,169.9 L184.0,166.4 L184.1,172.5 L184.2,193.2 L184.3,170.6 L184.4,183.8 L184.5,170.5 L184.5,169.6 L184.6,160.1 L184.7,163.1 L184.8,178.6 L184.9,166.7 L185.0,169.4 L185.1,169.4 L185.1,164.8 L185.2,170.1 L185.3,174.7 L185.4,177.6 L185.5,172.3 L185.6,176.3 L185.6,172.4 L185.7,176.6 L185.8,169.7 L185.9,172.8 L186.0,176.7 L186.1,174.3 L186.1,172.3 L186.2,170.8 L186.3,178.2 L186.4,178.2 L186.5,175.5 L186.6,180.9 L186.7,164.4 L186.7,175.4 L186.8,189.4 L186.9,176.0 L187.0,167.0 L187.1,170.6 L187.2,166.6 L187.2,188.0 L187.3,171.9 L187.4,170.2 L187.5,167.7 L187.6,178.9 L187.7,176.2 L187.7,182.9 L187.8,171.0 L187.9,166.3 L188.0,165.2 L188.1,167.7 L188.2,170.3 L188.3,165.6 L188.3,170.1 L188.4,177.9 L188.5,170.4 L188.6,173.6 L188.7,162.4 L188.8,188.6 L188.8,161.4 L188.9,154.2 L189.0,170.4 L189.1,181.3 L189.2,171.2 L189.3,180.7 L189.3,178.6 L189.4,173.0 L189.5,172.7 L189.6,173.4 L189.7,179.6 L189.8,177.4 L189.8,180.0 L189.9,178.3 L190.0,176.6 L190.1,174.4 L190.2,175.1 L190.3,167.9 L190.4,160.7 L190.4,165.0 L190.5,170.9 L190.6,176.1 L190.7,167.5 L190.8,172.9 L190.9,176.4 L190.9,180.8 L191.0,179.3 L191.1,173.8 L191.2,172.6 L191.3,166.8 L191.4,172.4 L191.4,156.5 L191.5,172.4 L191.6,160.9 L191.7,180.5 L191.8,181.6 L191.9,175.1 L192.0,186.1 L192.0,163.0 L192.1,174.9 L192.2,170.3 L192.3,174.8 L192.4,175.2 L192.5,182.2 L192.5,183.0 L192.6,169.8 L192.7,178.8 L192.8,169.1 L192.9,175.6 L193.0,173.0 L193.0,177.7 L193.1,163.8 L193.2,173.3 L193.3,181.1 L193.4,173.7 L193.5,164.9 L193.6,169.7 L193.6,175.5 L193.7,162.4 L193.8,185.3 L193.9,164.6 L194.0,163.9 L194.1,175.2 L194.1,157.7 L194.2,177.5 L194.3,175.6 L194.4,180.2 L194.5,161.6 L194.6,166.0 L194.6,147.7 L194.7,161.2 L194.8,159.3 L194.9,151.3 L195.0,161.5 L195.1,165.6 L195.2,165.4 L195.2,160.6 L195.3,160.7 L195.4,150.1 L195.5,171.2 L195.6,164.4 L195.7,160.4 L195.7,155.9 L195.8,165.2 L195.9,170.6 L196.0,159.3 L196.1,166.8 L196.2,178.4 L196.2,162.4 L196.3,165.2 L196.4,169.8 L196.5,174.7 L196.6,166.6 L196.7,184.2 L196.8,175.8 L196.8,168.5 L196.9,154.1 L197.0,178.2 L197.1,173.1 L197.2,167.2 L197.3,169.9 L197.3,165.1 L197.4,160.1 L197.5,165.4 L197.6,160.9 L197.7,162.3 L197.8,166.2 L197.8,162.0 L197.9,162.5 L198.0,162.3 L198.1,183.2 L198.2,158.2 L198.3,178.0 L198.4,168.5 L198.4,164.2 L198.5,155.9 L198.6,172.5 L198.7,161.8 L198.8,155.2 L198.9,166.2 L198.9,161.9 L199.0,158.1 L199.1,157.8 L199.2,155.9 L199.3,158.6 L199.4,150.3 L199.4,148.6 L199.5,160.7 L199.6,153.0 L199.7,147.7 L199.8,150.6 L199.9,146.2 L200.0,155.5 L200.0,159.1 L200.1,158.9 L200.2,149.2 L200.3,142.5 L200.4,151.4 L200.5,148.8 L200.5,158.2 L200.6,149.0 L200.7,167.0 L200.8,165.7 L200.9,171.6 L201.0,175.7 L201.0,173.3 L201.1,159.1 L201.2,157.3 L201.3,164.0 L201.4,172.3 L201.5,170.6 L201.6,167.2 L201.6,159.2 L201.7,163.9 L201.8,162.0 L201.9,157.2 L202.0,145.7 L202.1,144.7 L202.1,170.7 L202.2,161.9 L202.3,161.7 L202.4,165.9 L202.5,158.7 L202.6,158.8 L202.6,164.9 L202.7,163.4 L202.8,167.8 L202.9,178.9 L203.0,154.0 L203.1,176.6 L203.2,164.7 L203.2,160.5 L203.3,166.7 L203.4,176.8 L203.5,165.7 L203.6,152.6 L203.7,167.6 L203.7,164.9 L203.8,169.1 L203.9,170.9 L204.0,177.4 L204.1,165.7 L204.2,172.2 L204.2,171.8 L204.3,173.7 L204.4,159.3 L204.5,181.9 L204.6,176.8 L204.7,174.3 L204.8,162.0 L204.8,164.3 L204.9,169.3 L205.0,170.4 L205.1,170.3 L205.2,161.9 L205.3,162.8 L205.3,152.5 L205.4,167.8 L205.5,151.1 L205.6,159.0 L205.7,158.4 L205.8,153.7 L205.8,150.9 L205.9,154.3 L206.0,158.1 L206.1,165.1 L206.2,176.3 L206.3,161.8 L206.4,158.3 L206.4,169.7 L206.5,165.6 L206.6,172.4 L206.7,165.4 L206.8,164.0 L206.9,155.7 L206.9,155.3 L207.0,153.5 L207.1,169.0 L207.2,160.5 L207.3,152.7 L207.4,167.5 L207.4,160.6 L207.5,152.8 L207.6,146.7 L207.7,148.1 L207.8,155.7 L207.9,156.9 L208.0,164.2 L208.0,159.9 L208.1,155.0 L208.2,156.3 L208.3,160.3 L208.4,159.6 L208.5,156.8 L208.5,162.1 L208.6,160.6 L208.7,155.4 L208.8,161.8 L208.9,162.0 L209.0,167.1 L209.0,165.0 L209.1,156.8 L209.2,169.4 L209.3,163.9 L209.4,162.6 L209.5,170.4 L209.6,164.8 L209.6,157.8 L209.7,160.5 L209.8,164.6 L209.9,166.3 L210.0,169.6 L210.1,167.4 L210.1,154.6 L210.2,154.0 L210.3,146.6 L210.4,153.8 L210.5,160.1 L210.6,151.1 L210.6,150.7 L210.7,155.3 L210.8,150.2 L210.9,152.4 L211.0,149.4 L211.1,154.6 L211.2,147.1 L211.2,163.0 L211.3,141.2 L211.4,143.2 L211.5,151.0 L211.6,160.3 L211.7,157.7 L211.7,148.3 L211.8,143.1 L211.9,158.2 L212.0,151.8 L212.1,162.5 L212.2,152.0 L212.2,153.6 L212.3,144.4 L212.4,154.1 L212.5,154.3 L212.6,154.8 L212.7,151.4 L212.8,149.7 L212.8,138.3 L212.9,137.7 L213.0,155.6 L213.1,160.4 L213.2,149.6 L213.3,153.1 L213.3,152.9 L213.4,158.2 L213.5,148.0 L213.6,148.2 L213.7,152.6 L213.8,157.2 L213.8,151.9 L213.9,162.0 L214.0,150.1 L214.1,156.6 L214.2,145.3 L214.3,134.7 L214.4,156.5 L214.4,150.5 L214.5,138.5 L214.6,147.9 L214.7,149.7 L214.8,146.5 L214.9,158.4 L214.9,151.7 L215.0,148.9 L215.1,147.8 L215.2,150.7 L215.3,162.3 L215.4,154.3 L215.4,158.5 L215.5,150.4 L215.6,156.8 L215.7,172.9 L215.8,161.3 L215.9,153.8 L216.0,149.8 L216.0,153.1 L216.1,151.6 L216.2,155.8 L216.3,140.3 L216.4,156.3 L216.5,171.6 L216.5,145.3 L216.6,154.2 L216.7,155.0 L216.8,158.2 L216.9,145.4 L217.0,137.9 L217.0,156.1 L217.1,167.5 L217.2,155.7 L217.3,159.6 L217.4,166.6 L217.5,144.7 L217.5,165.5 L217.6,165.2 L217.7,165.9 L217.8,176.4 L217.9,170.0 L218.0,169.2 L218.1,165.4 L218.1,170.3 L218.2,169.8 L218.3,165.6 L218.4,146.7 L218.5,154.2 L218.6,155.1 L218.6,157.1 L218.7,170.6 L218.8,145.8 L218.9,151.4 L219.0,154.2 L219.1,149.2 L219.1,146.4 L219.2,137.1 L219.3,156.8 L219.4,151.6 L219.5,154.3 L219.6,152.9 L219.7,150.7 L219.7,169.4 L219.8,157.3 L219.9,162.3 L220.0,152.6 L220.1,155.3 L220.2,158.2 L220.2,144.0 L220.3,163.7 L220.4,144.3 L220.5,158.2 L220.6,152.2 L220.7,160.9 L220.7,159.4 L220.8,161.7 L220.9,162.8 L221.0,151.9 L221.1,160.3 L221.2,163.5 L221.3,156.6 L221.3,153.1 L221.4,151.5 L221.5,160.3 L221.6,154.4 L221.7,163.2 L221.8,151.2 L221.8,159.1 L221.9,147.1 L222.0,152.5 L222.1,146.5 L222.2,163.2 L222.3,165.5 L222.3,157.9 L222.4,159.8 L222.5,167.3 L222.6,160.8 L222.7,153.4 L222.8,156.1 L222.9,154.3 L222.9,157.6 L223.0,154.4 L223.1,182.5 L223.2,148.0 L223.3,166.4 L223.4,149.5 L223.4,156.8 L223.5,156.0 L223.6,159.6 L223.7,142.6 L223.8,156.1 L223.9,158.2 L223.9,154.0 L224.0,155.4 L224.1,152.5 L224.2,155.5 L224.3,153.7 L224.4,161.7 L224.5,159.7 L224.5,149.5 L224.6,179.9 L224.7,166.3 L224.8,164.4 L224.9,166.5 L225.0,152.9 L225.0,151.2 L225.1,143.5 L225.2,148.1 L225.3,151.9 L225.4,140.2 L225.5,160.6 L225.5,144.8 L225.6,158.7 L225.7,151.1 L225.8,152.7 L225.9,153.7 L226.0,155.3 L226.1,154.0 L226.1,161.0 L226.2,149.2 L226.3,145.9 L226.4,159.7 L226.5,159.9 L226.6,162.4 L226.6,184.0 L226.7,170.3 L226.8,157.6 L226.9,157.6 L227.0,151.7 L227.1,151.3 L227.1,152.0 L227.2,156.1 L227.3,158.0 L227.4,154.8 L227.5,169.8 L227.6,168.1 L227.7,180.3 L227.7,159.9 L227.8,152.2 L227.9,152.2 L228.0,157.1 L228.1,150.6 L228.2,155.6 L228.2,145.2 L228.3,149.8 L228.4,173.6 L228.5,161.2 L228.6,170.3 L228.7,161.9 L228.7,156.6 L228.8,157.9 L228.9,154.9 L229.0,147.2 L229.1,161.8 L229.2,184.0 L229.3,160.2 L229.3,156.6 L229.4,155.0 L229.5,154.1 L229.6,132.0 L229.7,160.5 L229.8,134.0 L229.8,140.3 L229.9,155.7 L230.0,154.2 L230.1,165.3 L230.2,179.8 L230.3,164.9 L230.3,154.3 L230.4,157.6 L230.5,170.4 L230.6,160.6 L230.7,160.1 L230.8,155.3 L230.9,153.3 L230.9,158.2 L231.0,159.6 L231.1,160.2 L231.2,165.6 L231.3,153.1 L231.4,157.8 L231.4,161.4 L231.5,159.1 L231.6,156.2 L231.7,142.2 L231.8,153.5 L231.9,165.1 L231.9,177.2 L232.0,173.0 L232.1,162.2 L232.2,168.7 L232.3,159.3 L232.4,162.4 L232.5,176.0 L232.5,164.5 L232.6,164.5 L232.7,161.8 L232.8,166.9 L232.9,164.5 L233.0,150.2 L233.0,160.8 L233.1,167.4 L233.2,168.2 L233.3,171.1 L233.4,158.0 L233.5,148.6 L233.5,161.7 L233.6,164.3 L233.7,165.2 L233.8,165.1 L233.9,153.7 L234.0,170.5 L234.1,170.0 L234.1,172.6 L234.2,168.4 L234.3,155.6 L234.4,172.8 L234.5,176.5 L234.6,177.1 L234.6,170.0 L234.7,168.8 L234.8,159.0 L234.9,158.0 L235.0,164.1 L235.1,171.2 L235.1,162.0 L235.2,163.1 L235.3,167.6 L235.4,157.1 L235.5,166.3 L235.6,157.2 L235.7,155.8 L235.7,156.0 L235.8,168.9 L235.9,177.5 L236.0,160.6 L236.1,165.8 L236.2,150.2 L236.2,144.3 L236.3,162.0 L236.4,148.4 L236.5,139.1 L236.6,149.5 L236.7,157.4 L236.7,145.4 L236.8,149.2 L236.9,150.1 L237.0,150.8 L237.1,152.6 L237.2,145.4 L237.3,140.2 L237.3,148.9 L237.4,148.4 L237.5,147.6 L237.6,148.7 L237.7,137.6 L237.8,144.5 L237.8,141.1 L237.9,132.5 L238.0,149.9 L238.1,164.6 L238.2,151.7 L238.3,153.0 L238.3,159.6 L238.4,150.6 L238.5,153.5 L238.6,164.5 L238.7,147.2 L238.8,156.4 L238.9,149.6 L238.9,158.0 L239.0,151.5 L239.1,152.9 L239.2,158.7 L239.3,163.1 L239.4,144.7 L239.4,142.7 L239.5,170.4 L239.6,158.1 L239.7,163.8 L239.8,160.1 L239.9,145.7 L239.9,165.8 L240.0,163.6 L240.1,170.0 L240.2,163.0 L240.3,162.7 L240.4,167.3 L240.5,163.9 L240.5,160.5 L240.6,167.8 L240.7,157.2 L240.8,168.9 L240.9,175.6 L241.0,157.0 L241.0,153.2 L241.1,154.0 L241.2,168.8 L241.3,141.0 L241.4,170.1 L241.5,154.5 L241.5,159.9 L241.6,158.5 L241.7,159.9 L241.8,169.1 L241.9,180.9 L242.0,159.3 L242.1,155.2 L242.1,157.2 L242.2,162.1 L242.3,165.1 L242.4,159.2 L242.5,157.5 L242.6,156.5 L242.6,155.5 L242.7,157.3 L242.8,153.9 L242.9,173.0 L243.0,159.8 L243.1,156.4 L243.1,136.2 L243.2,154.1 L243.3,153.5 L243.4,143.3 L243.5,135.3 L243.6,133.7 L243.7,141.8 L243.7,150.7 L243.8,147.7 L243.9,153.7 L244.0,166.2 L244.1,163.1 L244.2,158.8 L244.2,136.9 L244.3,147.1 L244.4,164.5 L244.5,152.2 L244.6,157.7 L244.7,156.7 L244.7,159.0 L244.8,159.7 L244.9,147.4 L245.0,145.8 L245.1,171.1 L245.2,150.6 L245.2,151.9 L245.3,155.6 L245.4,158.2 L245.5,143.5 L245.6,151.6 L245.7,148.1 L245.8,161.7 L245.8,167.2 L245.9,167.8 L246.0,157.4 L246.1,158.2 L246.2,168.8 L246.3,158.8 L246.3,156.3 L246.4,158.9 L246.5,154.7 L246.6,158.6 L246.7,170.9 L246.8,152.9 L246.8,134.7 L246.9,148.2 L247.0,147.8 L247.1,132.5 L247.2,138.4 L247.3,157.4 L247.4,150.7 L247.4,158.2 L247.5,139.0 L247.6,147.0 L247.7,160.5 L247.8,150.7 L247.9,160.5 L247.9,159.1 L248.0,152.3 L248.1,155.4 L248.2,161.8 L248.3,146.5 L248.4,155.4 L248.4,155.8 L248.5,136.5 L248.6,145.3 L248.7,148.4 L248.8,151.1 L248.9,152.8 L249.0,148.6 L249.0,129.4 L249.1,141.0 L249.2,142.1 L249.3,145.3 L249.4,166.7 L249.5,145.7 L249.5,156.2 L249.6,128.1 L249.7,148.9 L249.8,150.8 L249.9,139.7 L250.0,136.1 L250.0,134.7 L250.1,141.5 L250.2,148.5 L250.3,161.0 L250.4,151.3 L250.5,154.4 L250.6,143.1 L250.6,152.6 L250.7,152.0 L250.8,158.5 L250.9,151.4 L251.0,156.9 L251.1,154.3 L251.1,148.6 L251.2,154.0 L251.3,140.9 L251.4,160.0 L251.5,158.6 L251.6,147.9 L251.6,153.2 L251.7,161.4 L251.8,164.5 L251.9,165.2 L252.0,159.7 L252.1,155.7 L252.2,157.5 L252.2,147.8 L252.3,174.9 L252.4,139.5 L252.5,139.2 L252.6,140.8 L252.7,122.2 L252.7,139.3 L252.8,160.9 L252.9,142.5 L253.0,151.8 L253.1,158.3 L253.2,145.5 L253.2,157.4 L253.3,151.7 L253.4,155.1 L253.5,136.2 L253.6,145.3 L253.7,148.3 L253.8,145.2 L253.8,146.0 L253.9,156.7 L254.0,154.3 L254.1,147.2 L254.2,141.3 L254.3,136.4 L254.3,152.8 L254.4,141.0 L254.5,160.2 L254.6,121.0 L254.7,164.5 L254.8,137.1 L254.8,138.1 L254.9,135.9 L255.0,154.1 L255.1,144.1 L255.2,143.3 L255.3,143.6 L255.4,155.9 L255.4,147.3 L255.5,150.0 L255.6,135.5 L255.7,147.6 L255.8,134.4 L255.9,155.9 L255.9,133.0 L256.0,147.2 L256.1,145.8 L256.2,143.6 L256.3,147.3 L256.4,129.0 L256.4,142.0 L256.5,139.0 L256.6,144.1 L256.7,143.3 L256.8,140.6 L256.9,140.8 L257.0,138.5 L257.0,126.6 L257.1,143.1 L257.2,128.9 L257.3,130.0 L257.4,151.3 L257.5,162.2 L257.5,140.6 L257.6,147.3 L257.7,145.1 L257.8,139.0 L257.9,144.2 L258.0,155.1 L258.0,144.4 L258.1,146.6 L258.2,144.5 L258.3,154.9 L258.4,138.4 L258.5,135.6 L258.6,141.6 L258.6,168.7 L258.7,144.4 L258.8,143.9 L258.9,151.4 L259.0,137.0 L259.1,148.1 L259.1,149.3 L259.2,143.0 L259.3,153.6 L259.4,150.5 L259.5,149.4 L259.6,161.7 L259.6,120.7 L259.7,147.4 L259.8,149.0 L259.9,156.8 L260.0,138.2 L260.1,149.1 L260.2,143.0 L260.2,130.6 L260.3,144.3 L260.4,145.4 L260.5,153.2 L260.6,137.0 L260.7,129.8 L260.7,156.6 L260.8,137.1 L260.9,140.3 L261.0,133.2 L261.1,139.1 L261.2,136.2 L261.2,143.1 L261.3,148.8 L261.4,142.3 L261.5,143.3 L261.6,152.0 L261.7,168.6 L261.8,148.6 L261.8,142.1 L261.9,139.4 L262.0,143.2 L262.1,151.8 L262.2,142.1 L262.3,144.0 L262.3,132.3 L262.4,149.2 L262.5,133.0 L262.6,140.9 L262.7,141.4 L262.8,154.9 L262.8,142.1 L262.9,153.0 L263.0,146.4 L263.1,132.2 L263.2,138.0 L263.3,151.9 L263.4,140.3 L263.4,133.4 L263.5,164.9 L263.6,140.8 L263.7,137.4 L263.8,128.6 L263.9,133.2 L263.9,144.4 L264.0,142.7 L264.1,153.0 L264.2,139.5 L264.3,151.5 L264.4,145.1 L264.4,157.5 L264.5,148.4 L264.6,153.2 L264.7,148.7 L264.8,149.0 L264.9,141.1 L265.0,138.7 L265.0,139.8 L265.1,148.0 L265.2,147.3 L265.3,144.2 L265.4,150.0 L265.5,124.8 L265.5,170.3 L265.6,166.8 L265.7,144.3 L265.8,152.4 L265.9,131.0 L266.0,143.9 L266.0,135.2 L266.1,141.5 L266.2,151.8 L266.3,140.9 L266.4,137.9 L266.5,126.7 L266.6,131.3 L266.6,141.7 L266.7,119.9 L266.8,127.0 L266.9,151.0 L267.0,122.8 L267.1,129.4 L267.1,134.5 L267.2,130.8 L267.3,165.7 L267.4,154.3 L267.5,147.9 L267.6,131.5 L267.6,144.4 L267.7,137.0 L267.8,130.4 L267.9,135.6 L268.0,135.5 L268.1,140.5 L268.2,114.3 L268.2,140.2 L268.3,132.1 L268.4,142.5 L268.5,147.9 L268.6,152.6 L268.7,135.4 L268.7,146.7 L268.8,138.1 L268.9,144.8 L269.0,127.5 L269.1,153.3 L269.2,153.6 L269.2,147.4 L269.3,131.0 L269.4,124.4 L269.5,125.1 L269.6,139.4 L269.7,141.8 L269.8,145.1 L269.8,142.0 L269.9,131.9 L270.0,136.2 L270.1,120.9 L270.2,128.6 L270.3,129.4 L270.3,146.9 L270.4,114.2 L270.5,134.0 L270.6,140.4 L270.7,145.8 L270.8,147.8 L270.8,151.9 L270.9,154.6 L271.0,148.7 L271.1,146.0 L271.2,137.5 L271.3,146.1 L271.4,148.3 L271.4,150.8 L271.5,153.8 L271.6,151.9 L271.7,145.1 L271.8,163.1 L271.9,146.1 L271.9,154.5 L272.0,156.8 L272.1,152.8 L272.2,155.0 L272.3,161.1 L272.4,162.3 L272.4,167.2 L272.5,155.8 L272.6,158.7 L272.7,166.9 L272.8,138.9 L272.9,146.0 L272.9,149.9 L273.0,146.7 L273.1,149.0 L273.2,151.4 L273.3,163.2 L273.4,162.7 L273.5,157.2 L273.5,147.4 L273.6,154.7 L273.7,155.6 L273.8,158.6 L273.9,154.5 L274.0,163.6 L274.0,156.5 L274.1,153.3 L274.2,148.3 L274.3,154.9 L274.4,148.1 L274.5,150.6 L274.5,147.7 L274.6,147.8 L274.7,147.1 L274.8,140.5 L274.9,148.3 L275.0,151.3 L275.1,143.7 L275.1,135.6 L275.2,150.1 L275.3,148.1 L275.4,129.5 L275.5,149.7 L275.6,152.8 L275.6,150.2 L275.7,135.8 L275.8,149.5 L275.9,152.3 L276.0,153.5 L276.1,151.2 L276.1,155.9 L276.2,149.3 L276.3,149.3 L276.4,169.5 L276.5,149.2 L276.6,154.3 L276.7,150.6 L276.7,147.1 L276.8,146.4 L276.9,150.0 L277.0,148.9 L277.1,149.8 L277.2,154.0 L277.2,131.0 L277.3,153.6 L277.4,140.9 L277.5,151.4 L277.6,135.4 L277.7,135.0 L277.7,143.9 L277.8,144.5 L277.9,139.1 L278.0,153.5 L278.1,148.7 L278.2,145.3 L278.3,154.9 L278.3,135.8 L278.4,139.0 L278.5,136.2 L278.6,151.9 L278.7,136.5 L278.8,142.2 L278.8,135.9 L278.9,157.5 L279.0,150.4 L279.1,142.5 L279.2,152.7 L279.3,157.6 L279.3,152.3 L279.4,155.7 L279.5,156.3 L279.6,156.8 L279.7,143.0 L279.8,149.9 L279.9,150.9 L279.9,156.6 L280.0,155.5 L280.1,157.6 L280.2,145.6 L280.3,164.0 L280.4,147.8 L280.4,139.4 L280.5,155.3 L280.6,153.4 L280.7,150.3 L280.8,148.0 L280.9,162.6 L280.9,150.0 L281.0,151.0 L281.1,167.7 L281.2,157.1 L281.3,146.4 L281.4,152.2 L281.5,152.3 L281.5,144.2 L281.6,158.8 L281.7,162.8 L281.8,149.3 L281.9,155.5 L282.0,156.5 L282.0,144.7 L282.1,134.8 L282.2,147.5 L282.3,156.0 L282.4,162.0 L282.5,146.8 L282.5,150.3 L282.6,153.3 L282.7,153.1 L282.8,151.4 L282.9,156.4 L283.0,155.8 L283.1,152.9 L283.1,154.1 L283.2,141.6 L283.3,145.8 L283.4,147.4 L283.5,159.1 L283.6,159.7 L283.6,162.4 L283.7,154.6 L283.8,149.8 L283.9,150.6 L284.0,145.7 L284.1,172.5 L284.1,141.6 L284.2,139.6 L284.3,139.2 L284.4,136.6 L284.5,141.7 L284.6,136.8 L284.7,144.2 L284.7,140.8 L284.8,139.1 L284.9,142.2 L285.0,134.7 L285.1,145.6 L285.2,145.5 L285.2,160.6 L285.3,153.8 L285.4,150.6 L285.5,147.6 L285.6,150.8 L285.7,167.8 L285.7,144.8 L285.8,155.3 L285.9,155.8 L286.0,145.9 L286.1,155.6 L286.2,149.0 L286.3,155.6 L286.3,143.6 L286.4,158.5 L286.5,136.7 L286.6,150.4 L286.7,152.3 L286.8,162.8 L286.8,150.9 L286.9,152.4 L287.0,156.2 L287.1,153.1 L287.2,151.6 L287.3,148.5 L287.3,147.4 L287.4,140.7 L287.5,147.6 L287.6,136.8 L287.7,143.3 L287.8,148.5 L287.9,150.3 L287.9,151.6 L288.0,141.0 L288.1,151.7 L288.2,153.7 L288.3,157.9 L288.4,164.2 L288.4,142.8 L288.5,164.6 L288.6,147.4 L288.7,142.7 L288.8,135.9 L288.9,132.2 L288.9,154.4 L289.0,147.5 L289.1,150.2 L289.2,143.2 L289.3,145.6 L289.4,147.8 L289.5,134.1 L289.5,141.5 L289.6,146.1 L289.7,144.2 L289.8,144.2 L289.9,139.7 L290.0,137.6 L290.0,136.0 L290.1,143.2 L290.2,166.5 L290.3,149.1 L290.4,152.0 L290.5,146.2 L290.5,150.6 L290.6,155.7 L290.7,154.2 L290.8,165.8 L290.9,160.2 L291.0,161.0 L291.1,151.9 L291.1,174.4 L291.2,142.8 L291.3,138.2 L291.4,149.1 L291.5,158.6 L291.6,159.7 L291.6,169.7 L291.7,158.1 L291.8,155.8 L291.9,164.6 L292.0,162.6 L292.1,163.1 L292.1,160.8 L292.2,161.8 L292.3,163.1 L292.4,136.4 L292.5,164.5 L292.6,162.4 L292.7,165.4 L292.7,169.2 L292.8,175.9 L292.9,174.6 L293.0,178.1 L293.1,171.6 L293.2,183.9 L293.2,150.1 L293.3,169.9 L293.4,164.5 L293.5,164.9 L293.6,169.5 L293.7,159.9 L293.7,165.8 L293.8,179.1 L293.9,144.5 L294.0,133.4 L294.1,143.4 L294.2,146.8 L294.3,137.2 L294.3,143.8 L294.4,143.2 L294.5,153.0 L294.6,155.3 L294.7,151.1 L294.8,138.9 L294.8,150.4 L294.9,182.7 L295.0,149.2 L295.1,152.4 L295.2,161.3 L295.3,161.2 L295.3,172.5 L295.4,171.4 L295.5,179.2 L295.6,156.3 L295.7,175.6 L295.8,164.5 L295.9,168.0 L295.9,175.4 L296.0,164.8 L296.1,168.9 L296.2,148.9 L296.3,165.8 L296.4,160.6 L296.4,161.0 L296.5,160.8 L296.6,157.4 L296.7,149.6 L296.8,150.0 L296.9,175.1 L296.9,172.1 L297.0,167.6 L297.1,160.7 L297.2,157.9 L297.3,148.3 L297.4,155.9 L297.5,146.9 L297.5,152.5 L297.6,154.1 L297.7,159.6 L297.8,150.8 L297.9,173.8 L298.0,162.7 L298.0,167.0 L298.1,175.3 L298.2,164.9 L298.3,170.5 L298.4,175.1 L298.5,175.9 L298.5,165.2 L298.6,167.5 L298.7,156.7 L298.8,163.4 L298.9,164.4 L299.0,158.3 L299.1,159.2 L299.1,159.9 L299.2,154.1 L299.3,149.1 L299.4,161.5 L299.5,152.1 L299.6,160.4 L299.6,169.0 L299.7,169.9 L299.8,162.6 L299.9,151.3 L300.0,159.9 L300.1,166.8 L300.1,170.2 L300.2,163.8 L300.3,160.2 L300.4,168.9 L300.5,147.1 L300.6,161.9 L300.7,154.8 L300.7,158.4 L300.8,162.5 L300.9,165.0 L301.0,158.1 L301.1,167.7 L301.2,164.0 L301.2,168.9 L301.3,160.7 L301.4,156.6 L301.5,164.4 L301.6,158.1 L301.7,162.4 L301.7,167.7 L301.8,160.8 L301.9,163.0 L302.0,159.6 L302.1,154.4 L302.2,160.8 L302.2,165.7 L302.3,170.9 L302.4,162.3 L302.5,153.6 L302.6,158.8 L302.7,152.6 L302.8,158.4 L302.8,161.3 L302.9,150.5 L303.0,166.0 L303.1,163.2 L303.2,152.0 L303.3,166.8 L303.3,156.6 L303.4,158.9 L303.5,144.6 L303.6,153.5 L303.7,142.2 L303.8,159.5 L303.8,159.0 L303.9,143.7 L304.0,162.8 L304.1,157.1 L304.2,161.3 L304.3,167.6 L304.4,166.8 L304.4,161.9 L304.5,161.1 L304.6,165.8 L304.7,155.2 L304.8,179.9 L304.9,162.6 L304.9,164.5 L305.0,164.4 L305.1,172.1 L305.2,166.5 L305.3,167.2 L305.4,160.6 L305.4,155.6 L305.5,164.5 L305.6,179.3 L305.7,188.5 L305.8,164.9 L305.9,162.0 L306.0,167.3 L306.0,167.6 L306.1,166.4 L306.2,165.0 L306.3,167.4 L306.4,158.9 L306.5,169.8 L306.5,172.8 L306.6,159.4 L306.7,166.0 L306.8,172.2 L306.9,167.5 L307.0,165.4 L307.0,158.8 L307.1,163.9 L307.2,169.2 L307.3,166.1 L307.4,168.1 L307.5,174.5 L307.6,169.1 L307.6,168.9 L307.7,158.7 L307.8,159.9 L307.9,178.7 L308.0,165.9 L308.1,166.1 L308.1,157.5 L308.2,146.7 L308.3,164.0 L308.4,169.8 L308.5,168.8 L308.6,164.2 L308.6,162.6 L308.7,169.0 L308.8,170.9 L308.9,168.3 L309.0,172.5 L309.1,169.6 L309.2,170.6 L309.2,180.3 L309.3,177.7 L309.4,178.0 L309.5,187.9 L309.6,170.3 L309.7,173.4 L309.7,164.2 L309.8,175.6 L309.9,160.8 L310.0,173.4 L310.1,167.0 L310.2,166.4 L310.2,171.3 L310.3,172.9 L310.4,172.5 L310.5,164.2 L310.6,160.8 L310.7,156.7 L310.8,154.2 L310.8,164.4 L310.9,163.9 L311.0,152.9 L311.1,169.3 L311.2,163.7 L311.3,146.6 L311.3,157.3 L311.4,156.7 L311.5,150.4 L311.6,155.2 L311.7,141.8 L311.8,164.0 L311.8,142.8 L311.9,153.3 L312.0,161.6 L312.1,160.2 L312.2,149.9 L312.3,167.4 L312.4,164.8 L312.4,157.4 L312.5,165.7 L312.6,149.1 L312.7,169.4 L312.8,170.0 L312.9,172.8 L312.9,165.8 L313.0,154.1 L313.1,167.8 L313.2,163.7 L313.3,168.6 L313.4,168.9 L313.4,156.6 L313.5,164.1 L313.6,147.1 L313.7,144.6 L313.8,153.2 L313.9,148.1 L314.0,168.3 L314.0,154.9 L314.1,169.8 L314.2,165.2 L314.3,162.7 L314.4,165.7 L314.5,166.2 L314.5,167.3 L314.6,156.9 L314.7,171.0 L314.8,167.4 L314.9,161.4 L315.0,161.3 L315.0,166.3 L315.1,153.7 L315.2,157.6 L315.3,151.5 L315.4,135.4 L315.5,148.4 L315.6,172.9 L315.6,156.7 L315.7,153.5 L315.8,145.8 L315.9,149.9 L316.0,147.7 L316.1,151.9 L316.1,164.4 L316.2,145.9 L316.3,151.5 L316.4,149.9 L316.5,149.1 L316.6,152.7 L316.6,137.1 L316.7,150.7 L316.8,154.5 L316.9,155.1 L317.0,145.9 L317.1,158.2 L317.2,153.3 L317.2,177.2 L317.3,155.0 L317.4,160.8 L317.5,158.7 L317.6,158.5 L317.7,156.5 L317.7,166.1 L317.8,165.5 L317.9,164.4 L318.0,163.5 L318.1,150.5 L318.2,162.9 L318.2,169.6 L318.3,168.6 L318.4,151.9 L318.5,168.2 L318.6,164.7 L318.7,170.4 L318.8,174.3 L318.8,171.1 L318.9,162.2 L319.0,175.3 L319.1,173.2 L319.2,178.7 L319.3,176.8 L319.3,174.3 L319.4,165.8 L319.5,179.5 L319.6,158.3 L319.7,170.3 L319.8,183.7 L319.8,176.4 L319.9,177.4 L320.0,181.5 L320.1,165.5 L320.2,174.9 L320.3,174.3 L320.4,177.5 L320.4,176.2 L320.5,175.3 L320.6,172.0 L320.7,183.6 L320.8,184.8 L320.9,178.1 L320.9,181.7 L321.0,176.5 L321.1,180.2 L321.2,178.4 L321.3,182.8 L321.4,188.6 L321.4,192.1 L321.5,183.1 L321.6,179.4 L321.7,174.1 L321.8,175.4 L321.9,181.7 L322.0,178.6 L322.0,176.9 L322.1,181.7 L322.2,170.6 L322.3,170.9 L322.4,174.1 L322.5,172.2 L322.5,181.9 L322.6,184.6 L322.7,177.0 L322.8,179.4 L322.9,183.1 L323.0,193.9 L323.0,180.1 L323.1,181.9 L323.2,182.1 L323.3,178.7 L323.4,181.3 L323.5,183.4 L323.6,172.9 L323.6,180.1 L323.7,182.3 L323.8,175.1 L323.9,181.2 L324.0,178.4 L324.1,167.8 L324.1,169.5 L324.2,172.9 L324.3,167.5 L324.4,167.4 L324.5,164.9 L324.6,177.4 L324.6,168.0 L324.7,155.7 L324.8,166.9 L324.9,163.5 L325.0,186.0 L325.1,158.8 L325.2,168.5 L325.2,157.2 L325.3,167.8 L325.4,170.8 L325.5,172.5 L325.6,168.9 L325.7,170.8 L325.7,163.4 L325.8,174.5 L325.9,165.7 L326.0,158.9 L326.1,143.9 L326.2,160.3 L326.2,167.3 L326.3,158.8 L326.4,158.1 L326.5,166.1 L326.6,169.6 L326.7,157.7 L326.8,152.5 L326.8,153.3 L326.9,160.0 L327.0,159.4 L327.1,151.3 L327.2,156.2 L327.3,163.8 L327.3,161.3 L327.4,168.3 L327.5,155.9 L327.6,160.3 L327.7,145.8 L327.8,163.3 L327.8,159.3 L327.9,152.6 L328.0,151.7 L328.1,159.9 L328.2,161.9 L328.3,140.2 L328.4,154.5 L328.4,159.0 L328.5,161.5 L328.6,150.4 L328.7,164.3 L328.8,159.8 L328.9,154.6 L328.9,153.8 L329.0,166.3 L329.1,169.0 L329.2,167.6 L329.3,159.6 L329.4,171.7 L329.4,162.0 L329.5,162.7 L329.6,161.6 L329.7,158.4 L329.8,157.5 L329.9,173.6 L329.9,162.9 L330.0,152.4 L330.1,158.0 L330.2,157.4 L330.3,161.4 L330.4,164.3 L330.5,157.4 L330.5,142.8 L330.6,172.1 L330.7,163.5 L330.8,159.7 L330.9,169.8 L331.0,166.3 L331.0,172.3 L331.1,158.2 L331.2,148.9 L331.3,160.4 L331.4,160.5 L331.5,159.4 L331.5,156.9 L331.6,152.9 L331.7,174.6 L331.8,163.3 L331.9,158.4 L332.0,158.1 L332.1,161.8 L332.1,152.5 L332.2,160.7 L332.3,164.8 L332.4,138.4 L332.5,163.8 L332.6,156.2 L332.6,156.6 L332.7,163.7 L332.8,155.3 L332.9,153.2 L333.0,164.1 L333.1,156.1 L333.1,155.2 L333.2,162.6 L333.3,161.6 L333.4,152.4 L333.5,135.4 L333.6,152.6 L333.7,146.7 L333.7,157.0 L333.8,151.5 L333.9,167.7 L334.0,161.4 L334.1,164.6 L334.2,158.1 L334.2,164.1 L334.3,162.0 L334.4,152.2 L334.5,155.5 L334.6,155.3 L334.7,158.0 L334.7,148.8 L334.8,152.8 L334.9,164.6 L335.0,160.0 L335.1,152.5 L335.2,155.3 L335.3,160.1 L335.3,152.2 L335.4,164.1 L335.5,155.9 L335.6,147.8 L335.7,147.2 L335.8,143.8 L335.8,137.6 L335.9,146.2 L336.0,136.6 L336.1,142.3 L336.2,140.9 L336.3,143.2 L336.3,163.5 L336.4,151.1 L336.5,152.0 L336.6,132.4 L336.7,152.0 L336.8,148.9 L336.9,151.9 L336.9,158.7 L337.0,150.9 L337.1,159.8 L337.2,156.6 L337.3,152.5 L337.4,159.1 L337.4,161.9 L337.5,163.0 L337.6,147.5 L337.7,154.8 L337.8,152.6 L337.9,144.8 L337.9,153.1 L338.0,156.8 L338.1,146.3 L338.2,150.3 L338.3,147.6 L338.4,150.2 L338.5,157.7 L338.5,161.5 L338.6,159.2 L338.7,136.2 L338.8,153.8 L338.9,172.4 L339.0,163.5 L339.0,156.5 L339.1,157.5 L339.2,148.1 L339.3,157.1 L339.4,176.3 L339.5,162.9 L339.5,157.3 L339.6,154.5 L339.7,157.9 L339.8,156.0 L339.9,148.5 L340.0,159.0 L340.1,162.0 L340.1,164.9 L340.2,158.6 L340.3,162.1 L340.4,162.8 L340.5,167.7 L340.6,161.6 L340.6,168.9 L340.7,155.8 L340.8,164.8 L340.9,173.3 L341.0,149.7 L341.1,152.5 L341.1,156.4 L341.2,159.4 L341.3,156.0 L341.4,147.6 L341.5,151.8 L341.6,177.9 L341.7,151.9 L341.7,164.2 L341.8,151.1 L341.9,178.1 L342.0,157.3 L342.1,151.6 L342.2,155.2 L342.2,155.4 L342.3,150.1 L342.4,154.6 L342.5,160.5 L342.6,150.4 L342.7,145.3 L342.7,161.9 L342.8,172.8 L342.9,161.5 L343.0,157.9" fill="none" stroke="#0000ff" stroke-width="0.8" stroke-linejoin="round"/>
<path d="M90.5,179.7 L90.9,178.1 L91.2,182.2 L91.6,177.5 L91.9,177.7 L92.3,179.7 L92.7,175.4 L93.0,175.5 L93.4,176.7 L93.8,175.7 L94.1,174.2 L94.5,175.6 L94.8,175.3 L95.2,176.7 L95.6,172.9 L95.9,174.3 L96.3,177.2 L96.6,178.2 L97.0,172.7 L97.4,176.0 L97.7,173.2 L98.1,173.3 L98.4,173.2 L98.8,173.7 L99.2,175.9 L99.5,175.3 L99.9,174.1 L100.3,173.4 L100.6,173.8 L101.0,173.6 L101.3,174.9 L101.7,172.5 L102.1,173.5 L102.4,173.2 L102.8,173.2 L103.1,173.6 L103.5,173.4 L103.9,175.1 L104.2,172.8 L104.6,175.3 L104.9,172.2 L105.3,171.9 L105.7,172.8 L106.0,173.2 L106.4,173.0 L106.8,174.6 L107.1,174.3 L107.5,173.2 L107.8,171.9 L108.2,172.2 L108.6,174.6 L108.9,172.6 L109.3,170.2 L109.6,171.1 L110.0,171.3 L110.4,174.0 L110.7,171.9 L111.1,175.7 L111.5,173.1 L111.8,172.2 L112.2,171.2 L112.5,173.5 L112.9,171.5 L113.3,170.5 L113.6,172.7 L114.0,171.8 L114.3,173.6 L114.7,171.6 L115.1,167.1 L115.4,172.9 L115.8,168.6 L116.1,174.0 L116.5,174.4 L116.9,170.8 L117.2,169.6 L117.6,169.1 L118.0,172.7 L118.3,171.0 L118.7,170.3 L119.0,170.8 L119.4,174.5 L119.8,171.7 L120.1,172.3 L120.5,172.3 L120.8,172.7 L121.2,172.7 L121.6,169.8 L121.9,170.6 L122.3,169.7 L122.6,169.7 L123.0,172.6 L123.4,170.0 L123.7,170.6 L124.1,169.6 L124.5,169.7 L124.8,171.9 L125.2,169.9 L125.5,169.8 L125.9,171.3 L126.3,171.3 L126.6,171.7 L127.0,170.7 L127.3,167.5 L127.7,171.3 L128.1,171.1 L128.4,171.9 L128.8,168.8 L129.2,174.2 L129.5,168.2 L129.9,171.3 L130.2,170.1 L130.6,169.2 L131.0,171.3 L131.3,169.5 L131.7,166.2 L132.0,168.0 L132.4,170.6 L132.8,173.4 L133.1,167.4 L133.5,169.7 L133.8,172.0 L134.2,170.6 L134.6,169.0 L134.9,167.3 L135.3,166.7 L135.7,168.3 L136.0,168.9 L136.4,165.8 L136.7,166.7 L137.1,169.8 L137.5,168.6 L137.8,168.0 L138.2,168.6 L138.5,167.9 L138.9,170.6 L139.3,171.7 L139.6,172.4 L140.0,170.2 L140.3,170.2 L140.7,171.3 L141.1,171.7 L141.4,171.2 L141.8,170.8 L142.2,167.8 L142.5,166.2 L142.9,170.1 L143.2,168.5 L143.6,168.6 L144.0,167.2 L144.3,166.5 L144.7,170.8 L145.0,169.2 L145.4,166.8 L145.8,169.0 L146.1,168.9 L146.5,169.2 L146.9,171.9 L147.2,168.2 L147.6,166.2 L147.9,168.3 L148.3,167.1 L148.7,169.0 L149.0,168.4 L149.4,168.6 L149.7,167.1 L150.1,168.7 L150.5,167.1 L150.8,168.7 L151.2,167.4 L151.5,166.1 L151.9,168.6 L152.3,166.6 L152.6,170.0 L153.0,168.4 L153.4,168.4 L153.7,167.8 L154.1,167.5 L154.4,163.7 L154.8,169.5 L155.2,166.2 L155.5,169.0 L155.9,166.4 L156.2,167.1 L156.6,167.0 L157.0,165.6 L157.3,167.0 L157.7,168.0 L158.1,166.5 L158.4,165.1 L158.8,166.2 L159.1,167.5 L159.5,168.9 L159.9,168.4 L160.2,167.4 L160.6,165.3 L160.9,168.4 L161.3,166.9 L161.7,166.4 L162.0,168.3 L162.4,167.8 L162.7,167.5 L163.1,164.8 L163.5,165.7 L163.8,163.9 L164.2,166.9 L164.6,166.6 L164.9,168.0 L165.3,166.8 L165.6,165.8 L166.0,169.7 L166.4,164.6 L166.7,164.1 L167.1,165.2 L167.4,166.9 L167.8,165.5 L168.2,165.2 L168.5,164.1 L168.9,168.2 L169.2,164.8 L169.6,164.0 L170.0,165.4 L170.3,164.3 L170.7,165.1 L171.1,167.6 L171.4,164.7 L171.8,165.2 L172.1,164.7 L172.5,164.9 L172.9,166.4 L173.2,165.9 L173.6,164.5 L173.9,163.4 L174.3,164.7 L174.7,166.1 L175.0,164.7 L175.4,164.5 L175.8,161.7 L176.1,166.1 L176.5,162.1 L176.8,162.4 L177.2,163.8 L177.6,164.4 L177.9,164.3 L178.3,163.0 L178.6,163.6 L179.0,163.1 L179.4,161.1 L179.7,163.5 L180.1,162.8 L180.4,164.5 L180.8,163.5 L181.2,165.2 L181.5,164.7 L181.9,165.0 L182.3,165.4 L182.6,164.5 L183.0,163.1 L183.3,165.5 L183.7,161.7 L184.1,163.1 L184.4,164.5 L184.8,162.6 L185.1,164.1 L185.5,161.6 L185.9,162.0 L186.2,163.6 L186.6,163.8 L186.9,164.5 L187.3,162.4 L187.7,162.9 L188.0,163.4 L188.4,163.1 L188.8,160.2 L189.1,161.3 L189.5,164.4 L189.8,160.0 L190.2,163.0 L190.6,161.2 L190.9,163.4 L191.3,160.5 L191.6,161.7 L192.0,158.4 L192.4,161.5 L192.7,163.2 L193.1,159.0 L193.5,163.2 L193.8,160.1 L194.2,161.1 L194.5,156.7 L194.9,162.7 L195.3,159.5 L195.6,160.0 L196.0,158.8 L196.3,159.1 L196.7,162.5 L197.1,159.8 L197.4,161.9 L197.8,160.2 L198.1,160.9 L198.5,159.5 L198.9,160.9 L199.2,164.3 L199.6,161.1 L200.0,160.8 L200.3,159.2 L200.7,161.5 L201.0,161.9 L201.4,156.9 L201.8,157.4 L202.1,162.9 L202.5,160.1 L202.8,159.5 L203.2,160.1 L203.6,160.9 L203.9,160.3 L204.3,158.6 L204.6,162.2 L205.0,158.8 L205.4,157.3 L205.7,157.7 L206.1,158.3 L206.5,157.8 L206.8,158.1 L207.2,158.8 L207.5,152.9 L207.9,156.9 L208.3,159.5 L208.6,158.8 L209.0,156.8 L209.3,156.8 L209.7,159.5 L210.1,157.2 L210.4,156.6 L210.8,160.4 L211.2,156.7 L211.5,158.3 L211.9,157.1 L212.2,157.1 L212.6,155.5 L213.0,155.6 L213.3,158.8 L213.7,154.9 L214.0,157.1 L214.4,154.6 L214.8,156.1 L215.1,156.3 L215.5,153.7 L215.8,158.0 L216.2,155.8 L216.6,158.0 L216.9,154.4 L217.3,157.3 L217.7,159.5 L218.0,156.0 L218.4,154.6 L218.7,156.3 L219.1,155.6 L219.5,155.0 L219.8,155.1 L220.2,154.2 L220.5,155.7 L220.9,154.4 L221.3,153.5 L221.6,156.1 L222.0,154.5 L222.3,158.9 L222.7,154.2 L223.1,153.3 L223.4,153.5 L223.8,154.9 L224.2,153.1 L224.5,152.1 L224.9,156.7 L225.2,152.0 L225.6,156.3 L226.0,154.0 L226.3,152.0 L226.7,156.3 L227.0,153.2 L227.4,151.8 L227.8,153.4 L228.1,155.3 L228.5,154.3 L228.9,154.4 L229.2,155.8 L229.6,153.2 L229.9,153.4 L230.3,152.4 L230.7,150.3 L231.0,152.3 L231.4,155.1 L231.7,149.6 L232.1,154.4 L232.5,152.6 L232.8,150.7 L233.2,152.1 L233.5,154.8 L233.9,150.9 L234.3,153.0 L234.6,153.5 L235.0,150.2 L235.4,152.5 L235.7,152.3 L236.1,150.6 L236.4,152.4 L236.8,150.6 L237.2,150.2 L237.5,149.0 L237.9,151.5 L238.2,150.1 L238.6,149.8 L239.0,148.8 L239.3,148.4 L239.7,149.2 L240.0,151.6 L240.4,149.0 L240.8,152.5 L241.1,150.8 L241.5,150.3 L241.9,148.0 L242.2,153.0 L242.6,147.5 L242.9,150.5 L243.3,152.3 L243.7,149.2 L244.0,148.3 L244.4,149.3 L244.7,150.7 L245.1,151.3 L245.5,150.1 L245.8,147.3 L246.2,147.8 L246.6,149.2 L246.9,146.7 L247.3,148.3 L247.6,152.2 L248.0,146.8 L248.4,150.3 L248.7,146.8 L249.1,147.7 L249.4,148.0 L249.8,145.6 L250.2,147.8 L250.5,149.9 L250.9,148.9 L251.2,148.8 L251.6,146.3 L252.0,147.3 L252.3,147.8 L252.7,148.4 L253.1,149.4 L253.4,145.6 L253.8,149.8 L254.1,146.5 L254.5,146.5 L254.9,144.9 L255.2,146.6 L255.6,146.3 L255.9,144.6 L256.3,146.0 L256.7,146.6 L257.0,145.7 L257.4,147.5 L257.7,144.5 L258.1,147.5 L258.5,145.7 L258.8,146.5 L259.2,142.8 L259.6,145.9 L259.9,145.5 L260.3,147.0 L260.6,143.6 L261.0,147.5 L261.4,143.5 L261.7,147.3 L262.1,146.0 L262.4,143.8 L262.8,148.4 L263.2,142.9 L263.5,144.5 L263.9,145.0 L264.3,145.4 L264.6,144.9 L265.0,145.7 L265.3,145.1 L265.7,144.3 L266.1,142.7 L266.4,143.5 L266.8,145.4 L267.1,142.0 L267.5,144.0 L267.9,140.4 L268.2,142.5 L268.6,140.9 L268.9,145.4 L269.3,140.4 L269.7,142.9 L270.0,144.4 L270.4,144.1 L270.8,144.3 L271.1,144.6 L271.5,143.6 L271.8,144.1 L272.2,142.6 L272.6,142.5 L272.9,139.7 L273.3,142.7 L273.6,144.4 L274.0,141.0 L274.4,140.3 L274.7,142.2 L275.1,143.8 L275.4,143.8 L275.8,139.4 L276.2,142.5 L276.5,140.6 L276.9,142.1 L277.3,137.9 L277.6,143.0 L278.0,140.8 L278.3,141.7 L278.7,141.0 L279.1,139.5 L279.4,142.0 L279.8,140.3 L280.1,139.9 L280.5,142.0 L280.9,140.7 L281.2,139.6 L281.6,142.2 L282.0,139.7 L282.3,140.5 L282.7,141.6 L283.0,141.9 L283.4,142.2 L283.8,142.9 L284.1,140.2 L284.5,138.8 L284.8,142.7 L285.2,142.2 L285.6,139.5 L285.9,141.0 L286.3,139.3 L286.6,137.3 L287.0,141.5 L287.4,140.3 L287.7,139.9 L288.1,142.4 L288.5,141.9 L288.8,138.6 L289.2,137.8 L289.5,136.5 L289.9,139.5 L290.3,138.9 L290.6,140.0 L291.0,139.4 L291.3,138.3 L291.7,138.7 L292.1,136.8 L292.4,141.2 L292.8,138.4 L293.2,140.2 L293.5,138.1 L293.9,139.2 L294.2,140.1 L294.6,138.6 L295.0,137.7 L295.3,142.4 L295.7,138.0 L296.0,138.9 L296.4,137.5 L296.8,136.0 L297.1,138.7 L297.5,136.2 L297.8,135.0 L298.2,129.7 L298.6,132.8 L298.9,132.6 L299.3,130.6 L299.7,128.8 L300.0,129.9 L300.4,127.1 L300.7,126.5 L301.1,126.0 L301.5,124.7 L301.8,119.8 L302.2,121.3 L302.5,118.3 L302.9,115.1 L303.3,118.1 L303.6,114.5 L304.0,116.1 L304.3,112.4 L304.7,114.3 L305.1,114.8 L305.4,115.1 L305.8,113.8 L306.2,112.7 L306.5,112.3 L306.9,115.8 L307.2,112.2 L307.6,112.3 L308.0,115.1 L308.3,109.1 L308.7,108.5 L309.0,110.1 L309.4,111.1 L309.8,109.8 L310.1,111.5 L310.5,111.3 L310.9,108.9 L311.2,111.6 L311.6,108.9 L311.9,112.3 L312.3,111.4 L312.7,114.5 L313.0,112.2 L313.4,110.5 L313.7,111.3 L314.1,110.9 L314.5,109.4 L314.8,108.2 L315.2,112.2 L315.5,112.9 L315.9,109.7 L316.3,109.9 L316.6,109.6 L317.0,111.9 L317.4,112.2 L317.7,108.8 L318.1,109.6 L318.4,109.3 L318.8,110.5 L319.2,111.3 L319.5,111.8 L319.9,109.6 L320.2,108.4 L320.6,110.8 L321.0,110.8 L321.3,109.3 L321.7,110.1 L322.0,110.4 L322.4,111.2 L322.8,109.8 L323.1,110.5 L323.5,109.9 L323.9,108.1 L324.2,110.7 L324.6,109.7 L324.9,111.2 L325.3,107.6 L325.7,108.3 L326.0,109.9 L326.4,106.6 L326.7,109.1 L327.1,108.6 L327.5,108.6 L327.8,108.8 L328.2,105.6 L328.6,109.2 L328.9,109.2 L329.3,110.8 L329.6,111.3 L330.0,109.6 L330.4,110.4 L330.7,105.0 L331.1,109.6 L331.4,110.5 L331.8,110.0 L332.2,108.9 L332.5,107.9 L332.9,107.8 L333.2,108.3 L333.6,108.9 L334.0,109.0 L334.3,107.9 L334.7,106.0 L335.1,110.8 L335.4,106.4 L335.8,103.4 L336.1,109.9 L336.5,109.2 L336.9,107.8 L337.2,109.0 L337.6,108.0 L337.9,105.9 L338.3,107.4 L338.7,105.1 L339.0,106.0 L339.4,105.5 L339.7,107.1 L340.1,108.5 L340.5,105.7 L340.8,107.3 L341.2,103.1 L341.6,104.7 L341.9,107.2 L342.3,107.8 L342.6,107.7 L343.0,107.8" fill="none" stroke="#008000" stroke-width="1.5" stroke-linejoin="round"/>
<path d="M90.5,185.9 L91.1,186.1 L91.8,186.0 L92.4,185.7 L93.0,185.2 L93.7,186.1 L94.3,186.1 L94.9,185.4 L95.6,186.1 L96.2,185.6 L96.8,186.3 L97.5,185.8 L98.1,185.5 L98.7,185.9 L99.4,185.6 L100.0,185.5 L100.6,185.5 L101.3,185.4 L101.9,185.6 L102.5,185.7 L103.2,185.5 L103.8,185.9 L104.4,185.1 L105.1,185.3 L105.7,185.6 L106.3,185.1 L107.0,185.8 L107.6,185.6 L108.2,185.4 L108.9,185.5 L109.5,185.2 L110.1,185.0 L110.8,185.6 L111.4,185.6 L112.0,185.4 L112.6,185.3 L113.3,184.8 L113.9,185.1 L114.5,185.2 L115.2,185.4 L115.8,185.6 L116.4,185.2 L117.1,185.1 L117.7,185.5 L118.3,185.2 L119.0,184.9 L119.6,185.6 L120.2,185.0 L120.9,185.1 L121.5,185.0 L122.1,185.3 L122.8,185.5 L123.4,185.1 L124.0,185.3 L124.7,185.1 L125.3,185.8 L125.9,185.6 L126.6,185.0 L127.2,185.3 L127.8,185.4 L128.5,185.3 L129.1,184.9 L129.7,185.1 L130.4,185.3 L131.0,185.2 L131.6,184.9 L132.3,185.2 L132.9,184.8 L133.5,184.5 L134.2,185.1 L134.8,185.3 L135.4,185.2 L136.1,185.4 L136.7,185.5 L137.3,185.1 L138.0,184.9 L138.6,185.0 L139.2,184.6 L139.9,185.0 L140.5,185.0 L141.1,185.0 L141.8,185.2 L142.4,184.4 L143.0,185.1 L143.7,184.8 L144.3,185.1 L144.9,184.9 L145.6,184.6 L146.2,185.1 L146.8,184.6 L147.5,184.9 L148.1,184.6 L148.7,184.7 L149.4,184.8 L150.0,185.2 L150.6,184.9 L151.3,184.7 L151.9,185.1 L152.5,184.7 L153.2,184.6 L153.8,184.4 L154.4,184.7 L155.0,184.7 L155.7,184.4 L156.3,184.1 L156.9,184.5 L157.6,184.6 L158.2,184.4 L158.8,184.3 L159.5,184.2 L160.1,184.4 L160.7,184.7 L161.4,184.3 L162.0,183.8 L162.6,184.3 L163.3,183.9 L163.9,184.5 L164.5,183.7 L165.2,183.7 L165.8,183.7 L166.4,183.6 L167.1,183.5 L167.7,183.4 L168.3,183.2 L169.0,183.0 L169.6,183.0 L170.2,182.6 L170.9,182.6 L171.5,182.4 L172.1,182.3 L172.8,182.1 L173.4,181.9 L174.0,181.9 L174.7,181.5 L175.3,181.4 L175.9,181.3 L176.6,181.0 L177.2,180.8 L177.8,180.7 L178.5,180.0 L179.1,180.4 L179.7,180.0 L180.4,179.0 L181.0,179.8 L181.6,179.2 L182.3,179.5 L182.9,178.9 L183.5,178.9 L184.2,178.9 L184.8,178.4 L185.4,178.2 L186.1,178.4 L186.7,178.8 L187.3,178.7 L188.0,178.8 L188.6,178.5 L189.2,178.5 L189.9,178.6 L190.5,178.5 L191.1,178.1 L191.8,178.5 L192.4,178.1 L193.0,178.0 L193.7,178.2 L194.3,178.2 L194.9,178.4 L195.6,178.2 L196.2,178.0 L196.8,178.1 L197.4,177.9 L198.1,178.0 L198.7,178.4 L199.3,178.1 L200.0,177.9 L200.6,177.9 L201.2,177.8 L201.9,177.9 L202.5,177.6 L203.1,178.1 L203.8,177.9 L204.4,178.1 L205.0,178.2 L205.7,178.0 L206.3,177.7 L206.9,177.6 L207.6,178.1 L208.2,178.1 L208.8,177.6 L209.5,177.7 L210.1,178.2 L210.7,177.9 L211.4,178.4 L212.0,178.0 L212.6,178.1 L213.3,177.9 L213.9,177.8 L214.5,177.5 L215.2,177.2 L215.8,178.1 L216.4,178.0 L217.1,177.7 L217.7,178.1 L218.3,177.5 L219.0,178.2 L219.6,177.9 L220.2,178.2 L220.9,177.4 L221.5,178.2 L222.1,178.0 L222.8,177.9 L223.4,177.6 L224.0,177.9 L224.7,177.8 L225.3,177.6 L225.9,177.4 L226.6,177.5 L227.2,177.6 L227.8,178.0 L228.5,178.0 L229.1,178.2 L229.7,177.8 L230.4,177.4 L231.0,177.5 L231.6,177.4 L232.3,177.6 L232.9,178.0 L233.5,177.6 L234.2,177.6 L234.8,177.8 L235.4,177.9 L236.1,177.9 L236.7,177.4 L237.3,177.4 L237.9,177.5 L238.6,177.8 L239.2,177.7 L239.8,177.4 L240.5,178.1 L241.1,177.5 L241.7,177.6 L242.4,177.6 L243.0,177.4 L243.6,177.6 L244.3,177.6 L244.9,177.6 L245.5,177.7 L246.2,177.4 L246.8,177.3 L247.4,177.8 L248.1,177.5 L248.7,177.8 L249.3,177.7 L250.0,178.2 L250.6,177.5 L251.2,177.1 L251.9,177.4 L252.5,177.8 L253.1,178.0 L253.8,177.9 L254.4,177.7 L255.0,177.9 L255.7,177.2 L256.3,177.3 L256.9,177.2 L257.6,177.6 L258.2,177.8 L258.8,177.5 L259.5,177.6 L260.1,177.3 L260.7,177.4 L261.4,177.5 L262.0,177.8 L262.6,177.5 L263.3,177.5 L263.9,177.7 L264.5,177.6 L265.2,177.2 L265.8,177.8 L266.4,177.4 L267.1,177.4 L267.7,177.4 L268.3,177.5 L269.0,177.3 L269.6,177.5 L270.2,177.8 L270.9,177.2 L271.5,176.9 L272.1,177.7 L272.8,177.4 L273.4,177.5 L274.0,177.5 L274.7,177.2 L275.3,177.3 L275.9,176.9 L276.6,177.3 L277.2,177.3 L277.8,177.0 L278.5,177.1 L279.1,177.2 L279.7,177.3 L280.3,177.2 L281.0,177.6 L281.6,177.4 L282.2,177.4 L282.9,176.8 L283.5,177.1 L284.1,177.2 L284.8,177.1 L285.4,177.2 L286.0,177.0 L286.7,176.9 L287.3,177.1 L287.9,177.1 L288.6,177.0 L289.2,177.1 L289.8,177.3 L290.5,177.2 L291.1,177.3 L291.7,177.2 L292.4,177.1 L293.0,177.0 L293.6,177.5 L294.3,177.1 L294.9,177.2 L295.5,176.9 L296.2,176.7 L296.8,176.7 L297.4,176.7 L298.1,176.1 L298.7,176.2 L299.3,175.6 L300.0,175.2 L300.6,175.7 L301.2,175.2 L301.9,175.2 L302.5,175.9 L303.1,175.3 L303.8,175.3 L304.4,175.1 L305.0,175.5 L305.7,175.5 L306.3,174.6 L306.9,175.1 L307.6,175.2 L308.2,175.3 L308.8,174.8 L309.5,175.1 L310.1,175.5 L310.7,175.4 L311.4,174.8 L312.0,175.1 L312.6,174.8 L313.3,175.2 L313.9,174.3 L314.5,175.2 L315.2,175.0 L315.8,175.2 L316.4,174.7 L317.1,174.9 L317.7,174.6 L318.3,175.0 L319.0,174.9 L319.6,175.4 L320.2,175.1 L320.9,174.3 L321.5,174.9 L322.1,174.9 L322.7,175.1 L323.4,175.0 L324.0,174.6 L324.6,174.7 L325.3,175.0 L325.9,174.5 L326.5,174.8 L327.2,174.4 L327.8,175.0 L328.4,175.0 L329.1,174.7 L329.7,174.4 L330.3,174.5 L331.0,174.6 L331.6,174.5 L332.2,174.6 L332.9,174.2 L333.5,174.2 L334.1,174.3 L334.8,174.7 L335.4,174.2 L336.0,174.5 L336.7,174.7 L337.3,174.1 L337.9,174.0 L338.6,174.0 L339.2,174.5 L339.8,174.5 L340.5,174.3 L341.1,174.1 L341.7,174.4 L342.4,173.9 L343.0,174.4" fill="none" stroke="#000" stroke-width="0.85" stroke-linejoin="round"/>
<rect x="71.9" y="30.3" width="290.50" height="209.10" fill="none" stroke="#3a3a3a" stroke-width="1"/>
<line x1="90.50" x2="90.50" y1="239.4" y2="236.4" stroke="#3a3a3a" stroke-width="1"/>
<line x1="90.50" x2="90.50" y1="30.3" y2="33.3" stroke="#3a3a3a" stroke-width="1"/>
<text x="90.50" y="257.6" font-size="13" text-anchor="middle" fill="#000">0</text>
<line x1="153.78" x2="153.78" y1="239.4" y2="236.4" stroke="#3a3a3a" stroke-width="1"/>
<line x1="153.78" x2="153.78" y1="30.3" y2="33.3" stroke="#3a3a3a" stroke-width="1"/>
<text x="153.78" y="257.6" font-size="13" text-anchor="middle" fill="#000">1000</text>
<line x1="217.05" x2="217.05" y1="239.4" y2="236.4" stroke="#3a3a3a" stroke-width="1"/>
<line x1="217.05" x2="217.05" y1="30.3" y2="33.3" stroke="#3a3a3a" stroke-width="1"/>
<text x="217.05" y="257.6" font-size="13" text-anchor="middle" fill="#000">2000</text>
<line x1="280.33" x2="280.33" y1="239.4" y2="236.4" stroke="#3a3a3a" stroke-width="1"/>
<line x1="280.33" x2="280.33" y1="30.3" y2="33.3" stroke="#3a3a3a" stroke-width="1"/>
<text x="280.33" y="257.6" font-size="13" text-anchor="middle" fill="#000">3000</text>
<line x1="343.60" x2="343.60" y1="239.4" y2="236.4" stroke="#3a3a3a" stroke-width="1"/>
<line x1="343.60" x2="343.60" y1="30.3" y2="33.3" stroke="#3a3a3a" stroke-width="1"/>
<text x="343.60" y="257.6" font-size="13" text-anchor="middle" fill="#000">4000</text>
<text x="65" y="243.60" font-size="13" text-anchor="end" fill="#000">−100</text>
<line x1="71.9" x2="74.9" y1="187.00" y2="187.00" stroke="#3a3a3a" stroke-width="1"/>
<line x1="362.4" x2="359.4" y1="187.00" y2="187.00" stroke="#3a3a3a" stroke-width="1"/>
<text x="65" y="191.25" font-size="13" text-anchor="end" fill="#000">0</text>
<line x1="71.9" x2="74.9" y1="134.65" y2="134.65" stroke="#3a3a3a" stroke-width="1"/>
<line x1="362.4" x2="359.4" y1="134.65" y2="134.65" stroke="#3a3a3a" stroke-width="1"/>
<text x="65" y="138.90" font-size="13" text-anchor="end" fill="#000">100</text>
<line x1="71.9" x2="74.9" y1="82.30" y2="82.30" stroke="#3a3a3a" stroke-width="1"/>
<line x1="362.4" x2="359.4" y1="82.30" y2="82.30" stroke="#3a3a3a" stroke-width="1"/>
<text x="65" y="86.55" font-size="13" text-anchor="end" fill="#000">200</text>
<text x="65" y="34.20" font-size="13" text-anchor="end" fill="#000">300</text>
<text x="217.3" y="280" font-size="13" text-anchor="middle" fill="#000">Time (s)</text>
<text transform="translate(24.6,134.5) rotate(-90)" font-size="13" text-anchor="middle" fill="#000">Δ<tspan font-weight="bold">f</tspan><tspan font-weight="bold" font-size="10.5" dy="3.5">r</tspan><tspan dy="-3.5"> (Hz)</tspan></text>
<text x="6.3" y="20" font-size="17" fill="#000">(a)</text>
<rect x="76.3" y="32.8" width="170.9" height="59.0" fill="#fff" stroke="#333" stroke-width="1"/>
<line x1="82" x2="104.5" y1="43.75" y2="43.75" stroke="#ff4d4d" stroke-width="1.3"/>
<text x="110.3" y="47.25" font-size="9.8" fill="#000">Sensor raw data</text>
<line x1="82" x2="104.5" y1="56" y2="56" stroke="#4d4dff" stroke-width="1.3"/>
<text x="110.3" y="59.50" font-size="9.8" fill="#000">Reference raw data</text>
<line x1="82" x2="104.5" y1="68.4" y2="68.4" stroke="#4da64d" stroke-width="1"/>
<text x="110.3" y="71.90" font-size="9.8" fill="#000">Mecea Filtered Compensation</text>
<line x1="82" x2="104.5" y1="80.3" y2="80.3" stroke="#4d4d4d" stroke-width="1"/>
<text x="110.3" y="83.80" font-size="9.8" fill="#000">Proposed Algorithm</text>
<line x1="519.78" x2="519.78" y1="30.3" y2="237.6" stroke="#d4d4d4" stroke-width="1"/>
<line x1="577.46" x2="577.46" y1="30.3" y2="237.6" stroke="#d4d4d4" stroke-width="1"/>
<line x1="635.14" x2="635.14" y1="30.3" y2="237.6" stroke="#d4d4d4" stroke-width="1"/>
<line x1="692.82" x2="692.82" y1="30.3" y2="237.6" stroke="#d4d4d4" stroke-width="1"/>
<line x1="462.1" x2="750.5" y1="82.12" y2="82.12" stroke="#d4d4d4" stroke-width="1"/>
<line x1="462.1" x2="750.5" y1="133.95" y2="133.95" stroke="#d4d4d4" stroke-width="1"/>
<line x1="462.1" x2="750.5" y1="185.78" y2="185.78" stroke="#d4d4d4" stroke-width="1"/>
<path d="M571.9,123.6V125.6M568.3,123.6H575.5M568.3,125.6H575.5" stroke="#ff0000" stroke-width="0.9" fill="none"/>
<path d="M589.3,121.0V124.0M585.7,121.0H592.9M585.7,124.0H592.9" stroke="#ff0000" stroke-width="0.9" fill="none"/>
<path d="M606.7,119.4V123.4M603.1,119.4H610.3M603.1,123.4H610.3" stroke="#ff0000" stroke-width="0.9" fill="none"/>
<path d="M624.0,116.3V122.0M620.4,116.3H627.6M620.4,122.0H627.6" stroke="#ff0000" stroke-width="0.9" fill="none"/>
<path d="M641.3,113.6V123.5M637.7,113.6H644.9M637.7,123.5H644.9" stroke="#ff0000" stroke-width="0.9" fill="none"/>
<path d="M658.7,105.4V119.1M655.1,105.4H662.3M655.1,119.1H662.3" stroke="#ff0000" stroke-width="0.9" fill="none"/>
<path d="M676.1,90.8V110.6M672.5,90.8H679.7M672.5,110.6H679.7" stroke="#ff0000" stroke-width="0.9" fill="none"/>
<path d="M693.6,71.0V101.0M690.0,71.0H697.2M690.0,101.0H697.2" stroke="#ff0000" stroke-width="0.9" fill="none"/>
<circle cx="502.4" cy="113.8" r="2.8" fill="#ff0000"/>
<circle cx="519.8" cy="118.8" r="2.8" fill="#ff0000"/>
<circle cx="537.2" cy="122.3" r="2.8" fill="#ff0000"/>
<circle cx="554.6" cy="124.6" r="2.8" fill="#ff0000"/>
<circle cx="571.9" cy="124.6" r="2.8" fill="#ff0000"/>
<circle cx="589.3" cy="122.5" r="2.8" fill="#ff0000"/>
<circle cx="606.7" cy="121.4" r="2.8" fill="#ff0000"/>
<circle cx="624.0" cy="119.1" r="2.8" fill="#ff0000"/>
<circle cx="641.3" cy="118.5" r="2.8" fill="#ff0000"/>
<circle cx="658.7" cy="111.2" r="2.8" fill="#ff0000"/>
<circle cx="676.1" cy="98.7" r="2.8" fill="#ff0000"/>
<circle cx="693.6" cy="81.2" r="2.8" fill="#ff0000"/>
<path d="M589.3,153.5V156.5M585.7,153.5H592.9M585.7,156.5H592.9" stroke="#008000" stroke-width="0.9" fill="none"/>
<path d="M606.7,156.4V160.4M603.1,156.4H610.3M603.1,160.4H610.3" stroke="#008000" stroke-width="0.9" fill="none"/>
<path d="M624.0,154.8V161.2M620.4,154.8H627.6M620.4,161.2H627.6" stroke="#008000" stroke-width="0.9" fill="none"/>
<path d="M641.3,143.7V153.0M637.7,143.7H644.9M637.7,153.0H644.9" stroke="#008000" stroke-width="0.9" fill="none"/>
<path d="M658.7,130.0V143.1M655.1,130.0H662.3M655.1,143.1H662.3" stroke="#008000" stroke-width="0.9" fill="none"/>
<path d="M676.1,115.3V136.4M672.5,115.3H679.7M672.5,136.4H679.7" stroke="#008000" stroke-width="0.9" fill="none"/>
<path d="M693.6,100.0V129.2M690.0,100.0H697.2M690.0,129.2H697.2" stroke="#008000" stroke-width="0.9" fill="none"/>
<circle cx="502.4" cy="169.7" r="2.8" fill="#008000"/>
<circle cx="519.8" cy="164.1" r="2.8" fill="#008000"/>
<circle cx="537.2" cy="157.4" r="2.8" fill="#008000"/>
<circle cx="554.6" cy="150.4" r="2.8" fill="#008000"/>
<circle cx="571.9" cy="150.1" r="2.8" fill="#008000"/>
<circle cx="589.3" cy="155.0" r="2.8" fill="#008000"/>
<circle cx="606.7" cy="158.4" r="2.8" fill="#008000"/>
<circle cx="624.0" cy="157.8" r="2.8" fill="#008000"/>
<circle cx="641.3" cy="148.1" r="2.8" fill="#008000"/>
<circle cx="658.7" cy="135.6" r="2.8" fill="#008000"/>
<circle cx="676.1" cy="123.1" r="2.8" fill="#008000"/>
<circle cx="693.6" cy="110.0" r="2.8" fill="#008000"/>
<path d="M589.3,185.0V187.6M585.7,185.0H592.9M585.7,187.6H592.9" stroke="#000" stroke-width="0.9" fill="none"/>
<path d="M606.7,180.6V185.0M603.1,180.6H610.3M603.1,185.0H610.3" stroke="#000" stroke-width="0.9" fill="none"/>
<path d="M624.0,179.0V185.0M620.4,179.0H627.6M620.4,185.0H627.6" stroke="#000" stroke-width="0.9" fill="none"/>
<path d="M641.3,168.0V177.3M637.7,168.0H644.9M637.7,177.3H644.9" stroke="#000" stroke-width="0.9" fill="none"/>
<path d="M658.7,156.3V169.4M655.1,156.3H662.3M655.1,169.4H662.3" stroke="#000" stroke-width="0.9" fill="none"/>
<path d="M676.1,141.4V160.6M672.5,141.4H679.7M672.5,160.6H679.7" stroke="#000" stroke-width="0.9" fill="none"/>
<path d="M693.6,121.9V152.5M690.0,121.9H697.2M690.0,152.5H697.2" stroke="#000" stroke-width="0.9" fill="none"/>
<circle cx="502.4" cy="232.2" r="2.8" fill="#000"/>
<circle cx="519.8" cy="217.9" r="2.8" fill="#000"/>
<circle cx="537.2" cy="204.5" r="2.8" fill="#000"/>
<circle cx="554.6" cy="193.2" r="2.8" fill="#000"/>
<circle cx="571.9" cy="187.3" r="2.8" fill="#000"/>
<circle cx="589.3" cy="186.3" r="2.8" fill="#000"/>
<circle cx="606.7" cy="182.8" r="2.8" fill="#000"/>
<circle cx="624.0" cy="182.0" r="2.8" fill="#000"/>
<circle cx="641.3" cy="172.0" r="2.8" fill="#000"/>
<circle cx="658.7" cy="161.8" r="2.8" fill="#000"/>
<circle cx="676.1" cy="148.7" r="2.8" fill="#000"/>
<circle cx="693.6" cy="132.7" r="2.8" fill="#000"/>
<rect x="462.1" y="30.3" width="288.40" height="207.30" fill="none" stroke="#000" stroke-width="0.75"/>
<path d="M479.46,237.6v-1.8M479.46,30.3v1.8M489.62,237.6v-1.8M489.62,30.3v1.8M496.83,237.6v-1.8M496.83,30.3v1.8M502.42,237.6v-1.8M502.42,30.3v1.8M506.98,237.6v-1.8M506.98,30.3v1.8M510.85,237.6v-1.8M510.85,30.3v1.8M514.19,237.6v-1.8M514.19,30.3v1.8M517.14,237.6v-1.8M517.14,30.3v1.8M519.78,237.6v-3.2M519.78,30.3v3.2M537.14,237.6v-1.8M537.14,30.3v1.8M547.30,237.6v-1.8M547.30,30.3v1.8M554.51,237.6v-1.8M554.51,30.3v1.8M560.10,237.6v-1.8M560.10,30.3v1.8M564.66,237.6v-1.8M564.66,30.3v1.8M568.53,237.6v-1.8M568.53,30.3v1.8M571.87,237.6v-1.8M571.87,30.3v1.8M574.82,237.6v-1.8M574.82,30.3v1.8M577.46,237.6v-3.2M577.46,30.3v3.2M594.82,237.6v-1.8M594.82,30.3v1.8M604.98,237.6v-1.8M604.98,30.3v1.8M612.19,237.6v-1.8M612.19,30.3v1.8M617.78,237.6v-1.8M617.78,30.3v1.8M622.34,237.6v-1.8M622.34,30.3v1.8M626.21,237.6v-1.8M626.21,30.3v1.8M629.55,237.6v-1.8M629.55,30.3v1.8M632.50,237.6v-1.8M632.50,30.3v1.8M635.14,237.6v-3.2M635.14,30.3v3.2M652.50,237.6v-1.8M652.50,30.3v1.8M662.66,237.6v-1.8M662.66,30.3v1.8M669.87,237.6v-1.8M669.87,30.3v1.8M675.46,237.6v-1.8M675.46,30.3v1.8M680.02,237.6v-1.8M680.02,30.3v1.8M683.89,237.6v-1.8M683.89,30.3v1.8M687.23,237.6v-1.8M687.23,30.3v1.8M690.18,237.6v-1.8M690.18,30.3v1.8M692.82,237.6v-3.2M692.82,30.3v3.2M710.18,237.6v-1.8M710.18,30.3v1.8M720.34,237.6v-1.8M720.34,30.3v1.8M727.55,237.6v-1.8M727.55,30.3v1.8M733.14,237.6v-1.8M733.14,30.3v1.8M737.70,237.6v-1.8M737.70,30.3v1.8M741.57,237.6v-1.8M741.57,30.3v1.8M744.91,237.6v-1.8M744.91,30.3v1.8M747.86,237.6v-1.8M747.86,30.3v1.8M462.1,222.00h1.8M750.5,222.00h-1.8M462.1,212.87h1.8M750.5,212.87h-1.8M462.1,206.40h1.8M750.5,206.40h-1.8M462.1,201.38h1.8M750.5,201.38h-1.8M462.1,197.27h1.8M750.5,197.27h-1.8M462.1,193.80h1.8M750.5,193.80h-1.8M462.1,190.80h1.8M750.5,190.80h-1.8M462.1,188.15h1.8M750.5,188.15h-1.8M462.1,185.78h3.2M750.5,185.78h-3.2M462.1,170.17h1.8M750.5,170.17h-1.8M462.1,161.05h1.8M750.5,161.05h-1.8M462.1,154.57h1.8M750.5,154.57h-1.8M462.1,149.55h1.8M750.5,149.55h-1.8M462.1,145.45h1.8M750.5,145.45h-1.8M462.1,141.98h1.8M750.5,141.98h-1.8M462.1,138.97h1.8M750.5,138.97h-1.8M462.1,136.32h1.8M750.5,136.32h-1.8M462.1,133.95h3.2M750.5,133.95h-3.2M462.1,118.35h1.8M750.5,118.35h-1.8M462.1,109.22h1.8M750.5,109.22h-1.8M462.1,102.75h1.8M750.5,102.75h-1.8M462.1,97.73h1.8M750.5,97.73h-1.8M462.1,93.62h1.8M750.5,93.62h-1.8M462.1,90.15h1.8M750.5,90.15h-1.8M462.1,87.15h1.8M750.5,87.15h-1.8M462.1,84.50h1.8M750.5,84.50h-1.8M462.1,82.12h3.2M750.5,82.12h-3.2M462.1,66.52h1.8M750.5,66.52h-1.8M462.1,57.40h1.8M750.5,57.40h-1.8M462.1,50.92h1.8M750.5,50.92h-1.8M462.1,45.90h1.8M750.5,45.90h-1.8M462.1,41.80h1.8M750.5,41.80h-1.8M462.1,38.33h1.8M750.5,38.33h-1.8M462.1,35.32h1.8M750.5,35.32h-1.8M462.1,32.67h1.8M750.5,32.67h-1.8" stroke="#000" stroke-width="0.8" fill="none"/>
<text x="462.70" y="256.3" font-size="13" text-anchor="middle" fill="#000">10<tspan font-size="8" dy="-4.0">-1</tspan></text>
<text x="520.38" y="256.3" font-size="13" text-anchor="middle" fill="#000">10<tspan font-size="8" dy="-4.0">0</tspan></text>
<text x="578.06" y="256.3" font-size="13" text-anchor="middle" fill="#000">10<tspan font-size="8" dy="-4.0">1</tspan></text>
<text x="635.74" y="256.3" font-size="13" text-anchor="middle" fill="#000">10<tspan font-size="8" dy="-4.0">2</tspan></text>
<text x="693.42" y="256.3" font-size="13" text-anchor="middle" fill="#000">10<tspan font-size="8" dy="-4.0">3</tspan></text>
<text x="751.10" y="256.3" font-size="13" text-anchor="middle" fill="#000">10<tspan font-size="8" dy="-4.0">4</tspan></text>
<text x="455.2" y="34.40" font-size="13" text-anchor="end" fill="#000">10<tspan font-size="8" dy="-4.0">-5</tspan></text>
<text x="455.2" y="86.22" font-size="13" text-anchor="end" fill="#000">10<tspan font-size="8" dy="-4.0">-6</tspan></text>
<text x="455.2" y="138.05" font-size="13" text-anchor="end" fill="#000">10<tspan font-size="8" dy="-4.0">-7</tspan></text>
<text x="455.2" y="189.88" font-size="13" text-anchor="end" fill="#000">10<tspan font-size="8" dy="-4.0">-8</tspan></text>
<text x="455.2" y="241.70" font-size="13" text-anchor="end" fill="#000">10<tspan font-size="8" dy="-4.0">-9</tspan></text>
<text x="606.4" y="280" font-size="13" text-anchor="middle" fill="#000"><tspan font-family="Liberation Serif" font-size="13.5">τ</tspan>(<tspan font-weight="bold">s</tspan>)</text>
<text transform="translate(424.2,133.7) rotate(-90)" font-size="13" text-anchor="middle" fill="#000">Allan Deviation</text>
<text x="402.4" y="20" font-size="17" fill="#000">(b)</text>
<rect x="465.6" y="33.6" width="195.2" height="53.1" fill="#fff" stroke="#999" stroke-width="1.1"/>
<circle cx="484.2" cy="45.3" r="2.6" fill="#ff0000"/>
<text x="503.8" y="49.30" font-size="11.25" fill="#000">Sensor raw data</text>
<circle cx="484.2" cy="59.9" r="2.6" fill="#008000"/>
<text x="503.8" y="63.90" font-size="11.25" fill="#000">Mecea Filtered Compensation</text>
<circle cx="484.2" cy="74.6" r="2.6" fill="#000"/>
<text x="503.8" y="78.60" font-size="11.25" fill="#000">Proposed Algorithm</text>
</svg>
</body></html>
